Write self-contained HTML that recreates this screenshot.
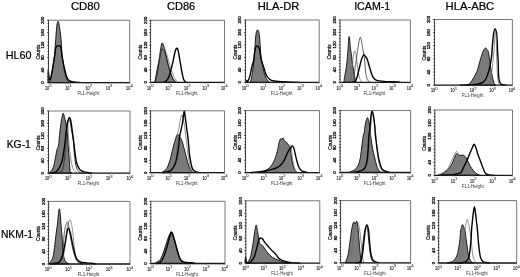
<!DOCTYPE html><html><head><meta charset="utf-8"><style>html,body{margin:0;padding:0;background:#fff;}svg{display:block;filter:blur(0.3px)}</style></head><body>
<svg width="520" height="277" viewBox="0 0 520 277" font-family='"Liberation Sans", sans-serif'>
<rect width="520" height="277" fill="#fff"/>
<text x="85.4" y="9.9" font-size="10.2" text-anchor="middle" textLength="29.0" lengthAdjust="spacingAndGlyphs" fill="#000" stroke="#000" stroke-width="0.22">CD80</text>
<text x="181.1" y="9.9" font-size="10.2" text-anchor="middle" textLength="28.2" lengthAdjust="spacingAndGlyphs" fill="#000" stroke="#000" stroke-width="0.22">CD86</text>
<text x="278.5" y="9.9" font-size="10.2" text-anchor="middle" textLength="41.5" lengthAdjust="spacingAndGlyphs" fill="#000" stroke="#000" stroke-width="0.22">HLA-DR</text>
<text x="372.2" y="9.9" font-size="10.2" text-anchor="middle" textLength="36.1" lengthAdjust="spacingAndGlyphs" fill="#000" stroke="#000" stroke-width="0.22">ICAM-1</text>
<text x="469.9" y="9.9" font-size="10.2" text-anchor="middle" textLength="48.7" lengthAdjust="spacingAndGlyphs" fill="#000" stroke="#000" stroke-width="0.22">HLA-ABC</text>
<text x="5.8" y="58.8" font-size="10.4" textLength="25.7" lengthAdjust="spacingAndGlyphs" fill="#000" stroke="#000" stroke-width="0.22">HL60</text>
<text x="6.7" y="148.4" font-size="10.4" textLength="24.2" lengthAdjust="spacingAndGlyphs" fill="#000" stroke="#000" stroke-width="0.22">KG-1</text>
<text x="0.9" y="237.8" font-size="10.4" textLength="32.2" lengthAdjust="spacingAndGlyphs" fill="#000" stroke="#000" stroke-width="0.22">NKM-1</text>
<g><path d="M49.3 82.6C49.52 81.93 50.22 80.03 50.6 78.6C50.98 77.17 51.23 75.85 51.6 74C51.97 72.15 52.43 69.67 52.8 67.5C53.17 65.33 53.47 63.17 53.8 61C54.13 58.83 54.57 57.05 54.8 54.5C55.03 51.95 55.03 48.32 55.2 45.7C55.37 43.08 55.62 41.12 55.8 38.8C55.98 36.48 56.12 34.12 56.3 31.8C56.48 29.48 56.6 26.65 56.9 24.9C57.2 23.15 57.72 21.3 58.1 21.3C58.48 21.3 58.85 23.15 59.2 24.9C59.55 26.65 59.9 29.48 60.2 31.8C60.5 34.12 60.78 36.48 61 38.8C61.22 41.12 61.35 43.08 61.5 45.7C61.65 48.32 61.67 51.95 61.9 54.5C62.13 57.05 62.55 58.83 62.9 61C63.25 63.17 63.6 65.33 64 67.5C64.4 69.67 64.88 72.15 65.3 74C65.72 75.85 65.97 77.35 66.5 78.6C67.03 79.85 67.92 80.83 68.5 81.5C69.08 82.17 69.75 82.42 70 82.6Z" fill="#7b7b7b" stroke="#111" stroke-width="0.95"/><path d="M48.2 82.4C48.22 80.57 48.12 71.93 48.3 71.4C48.48 70.87 48.92 78 49.3 79.2C49.68 80.4 50.22 79.47 50.6 78.6C50.98 77.73 51.23 75.85 51.6 74C51.97 72.15 52.43 69.67 52.8 67.5C53.17 65.33 53.47 63.17 53.8 61C54.13 58.83 54.5 56.58 54.8 54.5C55.1 52.42 55.23 49.92 55.6 48.5C55.97 47.08 56.52 46.48 57 46C57.48 45.52 58 45.6 58.5 45.6C59 45.6 59.58 45.6 60 46C60.42 46.4 60.68 46.58 61 48C61.32 49.42 61.58 52.33 61.9 54.5C62.22 56.67 62.52 58.83 62.9 61C63.28 63.17 63.72 65.33 64.2 67.5C64.68 69.67 65.25 72.15 65.8 74C66.35 75.85 66.78 77.4 67.5 78.6C68.22 79.8 69.02 80.63 70.1 81.2C71.18 81.77 72.35 81.8 74 82C75.65 82.2 79 82.33 80 82.4" fill="none" stroke="#000" stroke-width="1.4"/><path d="M48.5 20.2H129.7V82.6" fill="none" stroke="#666" stroke-width="0.9"/><path d="M48.5 20.2V82.6" fill="none" stroke="#333" stroke-width="0.9"/><path d="M48.5 82.6H129.7" fill="none" stroke="#111" stroke-width="1.3"/><path d="M47.1 82.6h1.8M47.6 79.48h1.3M47.6 76.36h1.3M47.6 73.24h1.3M47.1 70.12h1.8M47.6 67h1.3M47.6 63.88h1.3M47.6 60.76h1.3M47.1 57.64h1.8M47.6 54.52h1.3M47.6 51.4h1.3M47.6 48.28h1.3M47.1 45.16h1.8M47.6 42.04h1.3M47.6 38.92h1.3M47.6 35.8h1.3M47.1 32.68h1.8M47.6 29.56h1.3M47.6 26.44h1.3M47.6 23.32h1.3M47.1 20.2h1.8" stroke="#111" stroke-width="0.8"/><path d="M48.5 82.6v1.6M54.61 82.6v0.9M58.19 82.6v0.9M60.72 82.6v0.9M62.69 82.6v0.9M64.3 82.6v0.9M65.66 82.6v0.9M66.83 82.6v0.9M67.87 82.6v0.9M68.8 82.6v1.6M74.91 82.6v0.9M78.49 82.6v0.9M81.02 82.6v0.9M82.99 82.6v0.9M84.6 82.6v0.9M85.96 82.6v0.9M87.13 82.6v0.9M88.17 82.6v0.9M89.1 82.6v1.6M95.21 82.6v0.9M98.79 82.6v0.9M101.32 82.6v0.9M103.29 82.6v0.9M104.9 82.6v0.9M106.26 82.6v0.9M107.43 82.6v0.9M108.47 82.6v0.9M109.4 82.6v1.6M115.51 82.6v0.9M119.09 82.6v0.9M121.62 82.6v0.9M123.59 82.6v0.9M125.2 82.6v0.9M126.56 82.6v0.9M127.73 82.6v0.9M128.77 82.6v0.9M129.7 82.6v1.6" stroke="#555" stroke-width="0.5"/><text transform="translate(44.4 82.6) rotate(-90)" font-size="4.3" text-anchor="middle" fill="#111" stroke="#111" stroke-width="0.3">0</text><text transform="translate(44.4 70.12) rotate(-90)" font-size="4.3" text-anchor="middle" fill="#111" stroke="#111" stroke-width="0.3">40</text><text transform="translate(44.4 57.64) rotate(-90)" font-size="4.3" text-anchor="middle" fill="#111" stroke="#111" stroke-width="0.3">80</text><text transform="translate(44.4 45.16) rotate(-90)" font-size="4.3" text-anchor="middle" fill="#111" stroke="#111" stroke-width="0.3">120</text><text transform="translate(44.4 32.68) rotate(-90)" font-size="4.3" text-anchor="middle" fill="#111" stroke="#111" stroke-width="0.3">160</text><text transform="translate(44.4 20.2) rotate(-90)" font-size="4.3" text-anchor="middle" fill="#111" stroke="#111" stroke-width="0.3">200</text><text transform="translate(39.9 52.2) rotate(-90)" font-size="4.7" text-anchor="middle" fill="#111" stroke="#111" stroke-width="0.25">Counts</text><text x="47" y="89.8" font-size="5.2" text-anchor="middle" textLength="4.2" lengthAdjust="spacingAndGlyphs" fill="#333" stroke="#333" stroke-width="0.2">10</text><text x="49.2" y="87.2" font-size="4.2" fill="#444" stroke="#444" stroke-width="0.1">0</text><text x="67.3" y="89.8" font-size="5.2" text-anchor="middle" textLength="4.2" lengthAdjust="spacingAndGlyphs" fill="#333" stroke="#333" stroke-width="0.2">10</text><text x="69.5" y="87.2" font-size="4.2" fill="#444" stroke="#444" stroke-width="0.1">1</text><text x="87.6" y="89.8" font-size="5.2" text-anchor="middle" textLength="4.2" lengthAdjust="spacingAndGlyphs" fill="#333" stroke="#333" stroke-width="0.2">10</text><text x="89.8" y="87.2" font-size="4.2" fill="#444" stroke="#444" stroke-width="0.1">2</text><text x="107.9" y="89.8" font-size="5.2" text-anchor="middle" textLength="4.2" lengthAdjust="spacingAndGlyphs" fill="#333" stroke="#333" stroke-width="0.2">10</text><text x="110.1" y="87.2" font-size="4.2" fill="#444" stroke="#444" stroke-width="0.1">3</text><text x="128.2" y="89.8" font-size="5.2" text-anchor="middle" textLength="4.2" lengthAdjust="spacingAndGlyphs" fill="#333" stroke="#333" stroke-width="0.2">10</text><text x="130.4" y="87.2" font-size="4.2" fill="#444" stroke="#444" stroke-width="0.1">4</text><text x="88.3" y="94.8" font-size="4.8" text-anchor="middle" textLength="21.6" lengthAdjust="spacingAndGlyphs" fill="#333">FL1-Height</text></g>
<g><path d="M154.5 82.4C154.63 82 154.88 82.07 155.3 80C155.72 77.93 156.42 73.08 157 70C157.58 66.92 158.22 64.83 158.8 61.5C159.38 58.17 159.97 53.08 160.5 50C161.03 46.92 161.42 43.5 162 43C162.58 42.5 163.35 45.08 164 47C164.65 48.92 165.28 51.78 165.9 54.5C166.52 57.22 166.95 60.35 167.7 63.3C168.45 66.25 169.52 69.55 170.4 72.2C171.28 74.85 172.07 77.5 173 79.2C173.93 80.9 175.5 81.87 176 82.4Z" fill="#7b7b7b" stroke="#111" stroke-width="0.95"/><path d="M156 82.4C156.42 79.5 157.67 70.4 158.5 65C159.33 59.6 160.25 53.17 161 50C161.75 46.83 162.17 45.67 163 46C163.83 46.33 165 49.33 166 52C167 54.67 168 58.67 169 62C170 65.33 171 69.17 172 72C173 74.83 174 77.27 175 79C176 80.73 177.5 81.83 178 82.4" fill="none" stroke="#6a6a6a" stroke-width="0.75"/><path d="M155 82.4C155.33 81.17 156.25 78.73 157 75C157.75 71.27 158.75 64.17 159.5 60C160.25 55.83 160.92 51.75 161.5 50C162.08 48.25 162.42 49.05 163 49.5C163.58 49.95 164.25 50.62 165 52.7C165.75 54.78 166.67 58.87 167.5 62C168.33 65.13 169.08 68.67 170 71.5C170.92 74.33 172 77.18 173 79C174 80.82 175.5 81.83 176 82.4" fill="none" stroke="#222" stroke-width="0.9"/><path d="M164 82.4C164.62 81.87 166.63 80.9 167.7 79.2C168.77 77.5 169.52 75.15 170.4 72.2C171.28 69.25 172.23 64.87 173 61.5C173.77 58.13 174.42 54.2 175 52C175.58 49.8 176 48.63 176.5 48.3C177 47.97 177.4 47.8 178 50C178.6 52.2 179.45 57.8 180.1 61.5C180.75 65.2 181.32 69.25 181.9 72.2C182.48 75.15 182.92 77.5 183.6 79.2C184.28 80.9 185.6 81.87 186 82.4" fill="none" stroke="#000" stroke-width="1.4"/><path d="M150.6 20.3H224.5V82.4" fill="none" stroke="#666" stroke-width="0.9"/><path d="M150.6 20.3V82.4" fill="none" stroke="#333" stroke-width="0.9"/><path d="M150.6 82.4H224.5" fill="none" stroke="#111" stroke-width="1.3"/><path d="M149.2 82.4h1.8M149.7 79.3h1.3M149.7 76.19h1.3M149.7 73.09h1.3M149.2 69.98h1.8M149.7 66.88h1.3M149.7 63.77h1.3M149.7 60.67h1.3M149.2 57.56h1.8M149.7 54.45h1.3M149.7 51.35h1.3M149.7 48.24h1.3M149.2 45.14h1.8M149.7 42.04h1.3M149.7 38.93h1.3M149.7 35.83h1.3M149.2 32.72h1.8M149.7 29.62h1.3M149.7 26.51h1.3M149.7 23.41h1.3M149.2 20.3h1.8" stroke="#111" stroke-width="0.8"/><path d="M150.6 82.4v1.6M156.16 82.4v0.9M159.41 82.4v0.9M161.72 82.4v0.9M163.51 82.4v0.9M164.98 82.4v0.9M166.21 82.4v0.9M167.28 82.4v0.9M168.23 82.4v0.9M169.07 82.4v1.6M174.64 82.4v0.9M177.89 82.4v0.9M180.2 82.4v0.9M181.99 82.4v0.9M183.45 82.4v0.9M184.69 82.4v0.9M185.76 82.4v0.9M186.7 82.4v0.9M187.55 82.4v1.6M193.11 82.4v0.9M196.36 82.4v0.9M198.67 82.4v0.9M200.46 82.4v0.9M201.93 82.4v0.9M203.16 82.4v0.9M204.23 82.4v0.9M205.18 82.4v0.9M206.03 82.4v1.6M211.59 82.4v0.9M214.84 82.4v0.9M217.15 82.4v0.9M218.94 82.4v0.9M220.4 82.4v0.9M221.64 82.4v0.9M222.71 82.4v0.9M223.65 82.4v0.9M224.5 82.4v1.6" stroke="#555" stroke-width="0.5"/><text transform="translate(146.5 82.4) rotate(-90)" font-size="4.3" text-anchor="middle" fill="#111" stroke="#111" stroke-width="0.3">0</text><text transform="translate(146.5 69.98) rotate(-90)" font-size="4.3" text-anchor="middle" fill="#111" stroke="#111" stroke-width="0.3">40</text><text transform="translate(146.5 57.56) rotate(-90)" font-size="4.3" text-anchor="middle" fill="#111" stroke="#111" stroke-width="0.3">80</text><text transform="translate(146.5 45.14) rotate(-90)" font-size="4.3" text-anchor="middle" fill="#111" stroke="#111" stroke-width="0.3">120</text><text transform="translate(146.5 32.72) rotate(-90)" font-size="4.3" text-anchor="middle" fill="#111" stroke="#111" stroke-width="0.3">160</text><text transform="translate(146.5 20.3) rotate(-90)" font-size="4.3" text-anchor="middle" fill="#111" stroke="#111" stroke-width="0.3">200</text><text transform="translate(142 52.15) rotate(-90)" font-size="4.7" text-anchor="middle" fill="#111" stroke="#111" stroke-width="0.25">Counts</text><text x="149.1" y="89.6" font-size="5.2" text-anchor="middle" textLength="4.2" lengthAdjust="spacingAndGlyphs" fill="#333" stroke="#333" stroke-width="0.2">10</text><text x="151.3" y="87" font-size="4.2" fill="#444" stroke="#444" stroke-width="0.1">0</text><text x="167.57" y="89.6" font-size="5.2" text-anchor="middle" textLength="4.2" lengthAdjust="spacingAndGlyphs" fill="#333" stroke="#333" stroke-width="0.2">10</text><text x="169.77" y="87" font-size="4.2" fill="#444" stroke="#444" stroke-width="0.1">1</text><text x="186.05" y="89.6" font-size="5.2" text-anchor="middle" textLength="4.2" lengthAdjust="spacingAndGlyphs" fill="#333" stroke="#333" stroke-width="0.2">10</text><text x="188.25" y="87" font-size="4.2" fill="#444" stroke="#444" stroke-width="0.1">2</text><text x="204.53" y="89.6" font-size="5.2" text-anchor="middle" textLength="4.2" lengthAdjust="spacingAndGlyphs" fill="#333" stroke="#333" stroke-width="0.2">10</text><text x="206.72" y="87" font-size="4.2" fill="#444" stroke="#444" stroke-width="0.1">3</text><text x="223" y="89.6" font-size="5.2" text-anchor="middle" textLength="4.2" lengthAdjust="spacingAndGlyphs" fill="#333" stroke="#333" stroke-width="0.2">10</text><text x="225.2" y="87" font-size="4.2" fill="#444" stroke="#444" stroke-width="0.1">4</text><text x="186.75" y="94.6" font-size="4.8" text-anchor="middle" textLength="21.6" lengthAdjust="spacingAndGlyphs" fill="#333">FL1-Height</text></g>
<g><path d="M250.3 82.4C250.47 81.73 250.88 80.47 251.3 78.4C251.72 76.33 252.32 73.5 252.8 70C253.28 66.5 253.83 61.25 254.2 57.4C254.57 53.55 254.77 50.13 255 46.9C255.23 43.67 255.35 40.57 255.6 38C255.85 35.43 256.17 32.83 256.5 31.5C256.83 30.17 257.23 30 257.6 30C257.97 30 258.37 30.17 258.7 31.5C259.03 32.83 259.33 35.43 259.6 38C259.87 40.57 260.07 43.67 260.3 46.9C260.53 50.13 260.57 53.9 261 57.4C261.43 60.9 262.28 65.05 262.9 67.9C263.52 70.75 264.02 72.52 264.7 74.5C265.38 76.48 266.12 78.48 267 79.8C267.88 81.12 269.5 81.97 270 82.4Z" fill="#7b7b7b" stroke="#111" stroke-width="0.95"/><path d="M245.5 81C245.67 80.92 246.12 80.47 246.5 80.5C246.88 80.53 247.25 81.88 247.8 81.2C248.35 80.52 249.12 78.8 249.8 76.4C250.48 74 251.23 69.62 251.9 66.8C252.57 63.98 253.27 62.47 253.8 59.5C254.33 56.53 254.57 51.27 255.1 49C255.63 46.73 256.28 45.9 257 45.9C257.72 45.9 258.68 46.73 259.4 49C260.12 51.27 260.6 56.53 261.3 59.5C262 62.47 262.82 64.3 263.6 66.8C264.38 69.3 265.02 72.42 266 74.5C266.98 76.58 268.37 78.26 269.5 79.3C270.63 80.34 270.63 80.35 272.8 80.75C274.97 81.15 279.3 81.46 282.5 81.7C285.7 81.94 289.08 82.08 292 82.2C294.92 82.32 298.67 82.37 300 82.4" fill="none" stroke="#000" stroke-width="1.4"/><path d="M245.5 20H319.2V82.4" fill="none" stroke="#666" stroke-width="0.9"/><path d="M245.5 20V82.4" fill="none" stroke="#333" stroke-width="0.9"/><path d="M245.5 82.4H319.2" fill="none" stroke="#111" stroke-width="1.3"/><path d="M244.1 82.4h1.8M244.6 79.28h1.3M244.6 76.16h1.3M244.6 73.04h1.3M244.1 69.92h1.8M244.6 66.8h1.3M244.6 63.68h1.3M244.6 60.56h1.3M244.1 57.44h1.8M244.6 54.32h1.3M244.6 51.2h1.3M244.6 48.08h1.3M244.1 44.96h1.8M244.6 41.84h1.3M244.6 38.72h1.3M244.6 35.6h1.3M244.1 32.48h1.8M244.6 29.36h1.3M244.6 26.24h1.3M244.6 23.12h1.3M244.1 20h1.8" stroke="#111" stroke-width="0.8"/><path d="M245.5 82.4v1.6M251.05 82.4v0.9M254.29 82.4v0.9M256.59 82.4v0.9M258.38 82.4v0.9M259.84 82.4v0.9M261.07 82.4v0.9M262.14 82.4v0.9M263.08 82.4v0.9M263.93 82.4v1.6M269.47 82.4v0.9M272.72 82.4v0.9M275.02 82.4v0.9M276.8 82.4v0.9M278.26 82.4v0.9M279.5 82.4v0.9M280.56 82.4v0.9M281.51 82.4v0.9M282.35 82.4v1.6M287.9 82.4v0.9M291.14 82.4v0.9M293.44 82.4v0.9M295.23 82.4v0.9M296.69 82.4v0.9M297.92 82.4v0.9M298.99 82.4v0.9M299.93 82.4v0.9M300.77 82.4v1.6M306.32 82.4v0.9M309.57 82.4v0.9M311.87 82.4v0.9M313.65 82.4v0.9M315.11 82.4v0.9M316.35 82.4v0.9M317.41 82.4v0.9M318.36 82.4v0.9M319.2 82.4v1.6" stroke="#555" stroke-width="0.5"/><text transform="translate(241.4 82.4) rotate(-90)" font-size="4.3" text-anchor="middle" fill="#111" stroke="#111" stroke-width="0.3">0</text><text transform="translate(241.4 69.92) rotate(-90)" font-size="4.3" text-anchor="middle" fill="#111" stroke="#111" stroke-width="0.3">40</text><text transform="translate(241.4 57.44) rotate(-90)" font-size="4.3" text-anchor="middle" fill="#111" stroke="#111" stroke-width="0.3">80</text><text transform="translate(241.4 44.96) rotate(-90)" font-size="4.3" text-anchor="middle" fill="#111" stroke="#111" stroke-width="0.3">120</text><text transform="translate(241.4 32.48) rotate(-90)" font-size="4.3" text-anchor="middle" fill="#111" stroke="#111" stroke-width="0.3">160</text><text transform="translate(241.4 20) rotate(-90)" font-size="4.3" text-anchor="middle" fill="#111" stroke="#111" stroke-width="0.3">200</text><text transform="translate(236.9 52) rotate(-90)" font-size="4.7" text-anchor="middle" fill="#111" stroke="#111" stroke-width="0.25">Counts</text><text x="244" y="89.6" font-size="5.2" text-anchor="middle" textLength="4.2" lengthAdjust="spacingAndGlyphs" fill="#333" stroke="#333" stroke-width="0.2">10</text><text x="246.2" y="87" font-size="4.2" fill="#444" stroke="#444" stroke-width="0.1">0</text><text x="262.43" y="89.6" font-size="5.2" text-anchor="middle" textLength="4.2" lengthAdjust="spacingAndGlyphs" fill="#333" stroke="#333" stroke-width="0.2">10</text><text x="264.62" y="87" font-size="4.2" fill="#444" stroke="#444" stroke-width="0.1">1</text><text x="280.85" y="89.6" font-size="5.2" text-anchor="middle" textLength="4.2" lengthAdjust="spacingAndGlyphs" fill="#333" stroke="#333" stroke-width="0.2">10</text><text x="283.05" y="87" font-size="4.2" fill="#444" stroke="#444" stroke-width="0.1">2</text><text x="299.27" y="89.6" font-size="5.2" text-anchor="middle" textLength="4.2" lengthAdjust="spacingAndGlyphs" fill="#333" stroke="#333" stroke-width="0.2">10</text><text x="301.47" y="87" font-size="4.2" fill="#444" stroke="#444" stroke-width="0.1">3</text><text x="317.7" y="89.6" font-size="5.2" text-anchor="middle" textLength="4.2" lengthAdjust="spacingAndGlyphs" fill="#333" stroke="#333" stroke-width="0.2">10</text><text x="319.9" y="87" font-size="4.2" fill="#444" stroke="#444" stroke-width="0.1">4</text><text x="281.55" y="94.6" font-size="4.8" text-anchor="middle" textLength="21.6" lengthAdjust="spacingAndGlyphs" fill="#333">FL1-Height</text></g>
<g><path d="M343.5 82.3C343.6 82.1 343.93 81.87 344.1 81.1C344.27 80.33 344.07 80.47 344.5 77.7C344.93 74.93 346.1 69.4 346.7 64.5C347.3 59.6 347.7 52.97 348.1 48.3C348.5 43.63 348.7 36.5 349.1 36.5C349.5 36.5 349.92 43.63 350.5 48.3C351.08 52.97 351.92 59.77 352.6 64.5C353.28 69.23 354.07 74 354.6 76.7C355.13 79.4 355.48 79.77 355.8 80.7C356.12 81.63 356.38 82.03 356.5 82.3Z" fill="#7b7b7b" stroke="#111" stroke-width="0.95"/><path d="M350 82.3C350.25 81.08 351 78.9 351.5 75C352 71.1 352.5 62.9 353 58.9C353.5 54.9 354 51.72 354.5 51C355 50.28 355.58 52.77 356 54.6C356.42 56.43 356.67 59.43 357 62C357.33 64.57 357.58 67.33 358 70C358.42 72.67 358.83 75.95 359.5 78C360.17 80.05 361.58 81.58 362 82.3" fill="none" stroke="#6a6a6a" stroke-width="0.75"/><path d="M353.5 82.3C353.67 80.92 354.2 76.72 354.5 74C354.8 71.28 355.07 67.8 355.3 66C355.53 64.2 355.67 64.87 355.9 63.2C356.13 61.53 356.33 58.65 356.7 56C357.07 53.35 357.67 49.97 358.1 47.3C358.53 44.63 358.93 41.72 359.3 40C359.67 38.28 359.97 37 360.3 37C360.63 37 360.93 38.28 361.3 40C361.67 41.72 362.07 44.87 362.5 47.3C362.93 49.73 363.52 52.15 363.9 54.6C364.28 57.05 364.52 59.1 364.8 62C365.08 64.9 365.17 69.05 365.6 72C366.03 74.95 366.67 77.98 367.4 79.7C368.13 81.42 369.57 81.87 370 82.3" fill="none" stroke="#444" stroke-width="0.85"/><path d="M352 82.3C352.37 82.22 353.58 82.12 354.2 81.8C354.82 81.48 355.2 81.23 355.7 80.4C356.2 79.57 356.6 78.85 357.2 76.8C357.8 74.75 358.58 71 359.3 68.1C360.02 65.2 360.77 61.62 361.5 59.4C362.23 57.18 363.03 55.28 363.7 54.8C364.37 54.32 364.9 55.73 365.5 56.5C366.1 57.27 366.65 57.7 367.3 59.4C367.95 61.1 368.68 64.28 369.4 66.7C370.12 69.12 370.87 71.98 371.6 73.9C372.33 75.82 372.95 77.12 373.8 78.2C374.65 79.28 375.02 79.87 376.7 80.4C378.38 80.93 381.02 81.17 383.9 81.4C386.78 81.63 391.32 81.65 394 81.8C396.68 81.95 399 82.22 400 82.3" fill="none" stroke="#000" stroke-width="1.4"/><path d="M340 20H410.4V82.3" fill="none" stroke="#666" stroke-width="0.9"/><path d="M340 20V82.3" fill="none" stroke="#333" stroke-width="0.9"/><path d="M340 82.3H410.4" fill="none" stroke="#111" stroke-width="1.3"/><path d="M338.6 82.3h1.8M339.1 79.19h1.3M339.1 76.07h1.3M339.1 72.95h1.3M338.6 69.84h1.8M339.1 66.72h1.3M339.1 63.61h1.3M339.1 60.49h1.3M338.6 57.38h1.8M339.1 54.27h1.3M339.1 51.15h1.3M339.1 48.03h1.3M338.6 44.92h1.8M339.1 41.8h1.3M339.1 38.69h1.3M339.1 35.57h1.3M338.6 32.46h1.8M339.1 29.34h1.3M339.1 26.23h1.3M339.1 23.11h1.3M338.6 20h1.8" stroke="#111" stroke-width="0.8"/><path d="M340 82.3v1.6M345.3 82.3v0.9M348.4 82.3v0.9M350.6 82.3v0.9M352.3 82.3v0.9M353.7 82.3v0.9M354.87 82.3v0.9M355.89 82.3v0.9M356.79 82.3v0.9M357.6 82.3v1.6M362.9 82.3v0.9M366 82.3v0.9M368.2 82.3v0.9M369.9 82.3v0.9M371.3 82.3v0.9M372.47 82.3v0.9M373.49 82.3v0.9M374.39 82.3v0.9M375.2 82.3v1.6M380.5 82.3v0.9M383.6 82.3v0.9M385.8 82.3v0.9M387.5 82.3v0.9M388.9 82.3v0.9M390.07 82.3v0.9M391.09 82.3v0.9M391.99 82.3v0.9M392.8 82.3v1.6M398.1 82.3v0.9M401.2 82.3v0.9M403.4 82.3v0.9M405.1 82.3v0.9M406.5 82.3v0.9M407.67 82.3v0.9M408.69 82.3v0.9M409.59 82.3v0.9M410.4 82.3v1.6" stroke="#555" stroke-width="0.5"/><text transform="translate(335.9 82.3) rotate(-90)" font-size="4.3" text-anchor="middle" fill="#111" stroke="#111" stroke-width="0.3">0</text><text transform="translate(335.9 69.84) rotate(-90)" font-size="4.3" text-anchor="middle" fill="#111" stroke="#111" stroke-width="0.3">40</text><text transform="translate(335.9 57.38) rotate(-90)" font-size="4.3" text-anchor="middle" fill="#111" stroke="#111" stroke-width="0.3">80</text><text transform="translate(335.9 44.92) rotate(-90)" font-size="4.3" text-anchor="middle" fill="#111" stroke="#111" stroke-width="0.3">120</text><text transform="translate(335.9 32.46) rotate(-90)" font-size="4.3" text-anchor="middle" fill="#111" stroke="#111" stroke-width="0.3">160</text><text transform="translate(335.9 20) rotate(-90)" font-size="4.3" text-anchor="middle" fill="#111" stroke="#111" stroke-width="0.3">200</text><text transform="translate(331.4 51.95) rotate(-90)" font-size="4.7" text-anchor="middle" fill="#111" stroke="#111" stroke-width="0.25">Counts</text><text x="338.5" y="89.5" font-size="5.2" text-anchor="middle" textLength="4.2" lengthAdjust="spacingAndGlyphs" fill="#333" stroke="#333" stroke-width="0.2">10</text><text x="340.7" y="86.9" font-size="4.2" fill="#444" stroke="#444" stroke-width="0.1">0</text><text x="356.1" y="89.5" font-size="5.2" text-anchor="middle" textLength="4.2" lengthAdjust="spacingAndGlyphs" fill="#333" stroke="#333" stroke-width="0.2">10</text><text x="358.3" y="86.9" font-size="4.2" fill="#444" stroke="#444" stroke-width="0.1">1</text><text x="373.7" y="89.5" font-size="5.2" text-anchor="middle" textLength="4.2" lengthAdjust="spacingAndGlyphs" fill="#333" stroke="#333" stroke-width="0.2">10</text><text x="375.9" y="86.9" font-size="4.2" fill="#444" stroke="#444" stroke-width="0.1">2</text><text x="391.3" y="89.5" font-size="5.2" text-anchor="middle" textLength="4.2" lengthAdjust="spacingAndGlyphs" fill="#333" stroke="#333" stroke-width="0.2">10</text><text x="393.5" y="86.9" font-size="4.2" fill="#444" stroke="#444" stroke-width="0.1">3</text><text x="408.9" y="89.5" font-size="5.2" text-anchor="middle" textLength="4.2" lengthAdjust="spacingAndGlyphs" fill="#333" stroke="#333" stroke-width="0.2">10</text><text x="411.1" y="86.9" font-size="4.2" fill="#444" stroke="#444" stroke-width="0.1">4</text><text x="374.4" y="94.5" font-size="4.8" text-anchor="middle" textLength="21.6" lengthAdjust="spacingAndGlyphs" fill="#333">FL1-Height</text></g>
<g><path d="M466 85.2C466.35 85.12 467.38 85.08 468.1 84.7C468.82 84.32 469.42 83.97 470.3 82.9C471.18 81.83 472.25 80.32 473.4 78.3C474.55 76.28 476.07 73.82 477.2 70.8C478.33 67.78 479.2 63.48 480.2 60.2C481.2 56.92 482.32 53.13 483.2 51.1C484.08 49.07 484.87 48.27 485.5 48C486.13 47.73 486.5 48.73 487 49.5C487.5 50.27 488 50.32 488.5 52.6C489 54.88 489.5 59.92 490 63.2C490.5 66.48 490.98 69.53 491.5 72.3C492.02 75.07 492.58 77.78 493.1 79.8C493.62 81.82 494.12 83.5 494.6 84.4C495.08 85.3 495.77 85.07 496 85.2Z" fill="#7b7b7b" stroke="#111" stroke-width="0.95"/><path d="M460 85.2C461.6 85.12 466.73 84.88 469.6 84.7C472.47 84.52 474.93 84.53 477.2 84.1C479.47 83.67 481.7 83.07 483.2 82.1C484.7 81.13 485.18 80.45 486.2 78.3C487.22 76.15 488.42 72.73 489.3 69.2C490.18 65.67 490.98 61.05 491.5 57.1C492.02 53.15 492.03 49.48 492.4 45.5C492.77 41.52 493.25 35.97 493.7 33.2C494.15 30.43 494.62 28.9 495.1 28.9C495.58 28.9 496.25 31.13 496.6 33.2C496.95 35.27 497.03 38.17 497.2 41.3C497.37 44.43 497.43 48.55 497.6 52C497.77 55.45 498.07 58.62 498.2 62C498.33 65.38 498.25 69.33 498.4 72.3C498.55 75.27 498.73 77.92 499.1 79.8C499.47 81.68 499.97 82.78 500.6 83.6C501.23 84.42 502 84.43 502.9 84.7C503.8 84.97 505.48 85.12 506 85.2" fill="none" stroke="#000" stroke-width="1.4"/><path d="M488 85C488.33 84.17 489.33 82.5 490 80C490.67 77.5 491.4 74.17 492 70C492.6 65.83 493.22 59.2 493.6 55C493.98 50.8 494.08 48.03 494.3 44.8C494.52 41.57 494.73 37.9 494.9 35.6C495.07 33.3 495.12 31.27 495.3 31C495.48 30.73 495.82 31.67 496 34C496.18 36.33 496.27 40.67 496.4 45C496.53 49.33 496.65 55.5 496.8 60C496.95 64.5 497.1 68.67 497.3 72C497.5 75.33 497.63 77.83 498 80C498.37 82.17 499.25 84.17 499.5 85" fill="none" stroke="#6a6a6a" stroke-width="0.75"/><path d="M434.5 19.5H512.4V85.2" fill="none" stroke="#666" stroke-width="0.9"/><path d="M434.5 19.5V85.2" fill="none" stroke="#333" stroke-width="0.9"/><path d="M434.5 85.2H512.4" fill="none" stroke="#111" stroke-width="1.3"/><path d="M433.1 85.2h1.8M433.6 81.92h1.3M433.6 78.63h1.3M433.6 75.34h1.3M433.1 72.06h1.8M433.6 68.78h1.3M433.6 65.49h1.3M433.6 62.2h1.3M433.1 58.92h1.8M433.6 55.63h1.3M433.6 52.35h1.3M433.6 49.06h1.3M433.1 45.78h1.8M433.6 42.5h1.3M433.6 39.21h1.3M433.6 35.93h1.3M433.1 32.64h1.8M433.6 29.35h1.3M433.6 26.07h1.3M433.6 22.79h1.3M433.1 19.5h1.8" stroke="#111" stroke-width="0.8"/><path d="M434.5 85.2v1.6M440.36 85.2v0.9M443.79 85.2v0.9M446.23 85.2v0.9M448.11 85.2v0.9M449.65 85.2v0.9M450.96 85.2v0.9M452.09 85.2v0.9M453.08 85.2v0.9M453.98 85.2v1.6M459.84 85.2v0.9M463.27 85.2v0.9M465.7 85.2v0.9M467.59 85.2v0.9M469.13 85.2v0.9M470.43 85.2v0.9M471.56 85.2v0.9M472.56 85.2v0.9M473.45 85.2v1.6M479.31 85.2v0.9M482.74 85.2v0.9M485.18 85.2v0.9M487.06 85.2v0.9M488.6 85.2v0.9M489.91 85.2v0.9M491.04 85.2v0.9M492.03 85.2v0.9M492.92 85.2v1.6M498.79 85.2v0.9M502.22 85.2v0.9M504.65 85.2v0.9M506.54 85.2v0.9M508.08 85.2v0.9M509.38 85.2v0.9M510.51 85.2v0.9M511.51 85.2v0.9M512.4 85.2v1.6" stroke="#555" stroke-width="0.5"/><text transform="translate(430.4 85.2) rotate(-90)" font-size="4.3" text-anchor="middle" fill="#111" stroke="#111" stroke-width="0.3">0</text><text transform="translate(430.4 72.06) rotate(-90)" font-size="4.3" text-anchor="middle" fill="#111" stroke="#111" stroke-width="0.3">40</text><text transform="translate(430.4 58.92) rotate(-90)" font-size="4.3" text-anchor="middle" fill="#111" stroke="#111" stroke-width="0.3">80</text><text transform="translate(430.4 45.78) rotate(-90)" font-size="4.3" text-anchor="middle" fill="#111" stroke="#111" stroke-width="0.3">120</text><text transform="translate(430.4 32.64) rotate(-90)" font-size="4.3" text-anchor="middle" fill="#111" stroke="#111" stroke-width="0.3">160</text><text transform="translate(430.4 19.5) rotate(-90)" font-size="4.3" text-anchor="middle" fill="#111" stroke="#111" stroke-width="0.3">200</text><text transform="translate(425.9 53.15) rotate(-90)" font-size="4.7" text-anchor="middle" fill="#111" stroke="#111" stroke-width="0.25">Counts</text><text x="433" y="92.4" font-size="5.2" text-anchor="middle" textLength="4.2" lengthAdjust="spacingAndGlyphs" fill="#333" stroke="#333" stroke-width="0.2">10</text><text x="435.2" y="89.8" font-size="4.2" fill="#444" stroke="#444" stroke-width="0.1">0</text><text x="452.48" y="92.4" font-size="5.2" text-anchor="middle" textLength="4.2" lengthAdjust="spacingAndGlyphs" fill="#333" stroke="#333" stroke-width="0.2">10</text><text x="454.68" y="89.8" font-size="4.2" fill="#444" stroke="#444" stroke-width="0.1">1</text><text x="471.95" y="92.4" font-size="5.2" text-anchor="middle" textLength="4.2" lengthAdjust="spacingAndGlyphs" fill="#333" stroke="#333" stroke-width="0.2">10</text><text x="474.15" y="89.8" font-size="4.2" fill="#444" stroke="#444" stroke-width="0.1">2</text><text x="491.42" y="92.4" font-size="5.2" text-anchor="middle" textLength="4.2" lengthAdjust="spacingAndGlyphs" fill="#333" stroke="#333" stroke-width="0.2">10</text><text x="493.62" y="89.8" font-size="4.2" fill="#444" stroke="#444" stroke-width="0.1">3</text><text x="510.9" y="92.4" font-size="5.2" text-anchor="middle" textLength="4.2" lengthAdjust="spacingAndGlyphs" fill="#333" stroke="#333" stroke-width="0.2">10</text><text x="513.1" y="89.8" font-size="4.2" fill="#444" stroke="#444" stroke-width="0.1">4</text><text x="472.65" y="97.4" font-size="4.8" text-anchor="middle" textLength="21.6" lengthAdjust="spacingAndGlyphs" fill="#333">FL1-Height</text></g>
<g><path d="M48.8 173.2C48.88 173.12 49.02 172.97 49.3 172.7C49.58 172.43 49.87 172.42 50.5 171.6C51.13 170.78 52.35 169.68 53.1 167.8C53.85 165.92 54.37 163.25 55 160.3C55.63 157.35 56.3 152.65 56.9 150.1C57.5 147.55 58.17 147.47 58.6 145C59.03 142.53 59.15 138.6 59.5 135.3C59.85 132 60.28 128.15 60.7 125.2C61.12 122.25 61.57 119.6 62 117.6C62.43 115.6 62.88 113.2 63.3 113.2C63.72 113.2 64.05 115.8 64.5 117.6C64.95 119.4 65.5 121.1 66 124C66.5 126.9 67.08 130.67 67.5 135C67.92 139.33 68.17 145.33 68.5 150C68.83 154.67 69.22 159.4 69.5 163C69.78 166.6 69.78 169.9 70.2 171.6C70.62 173.3 71.7 172.93 72 173.2Z" fill="#7b7b7b" stroke="#111" stroke-width="0.95"/><path d="M60 173.2C60.5 172.33 62.17 171.03 63 168C63.83 164.97 64.42 159.67 65 155C65.58 150.33 66.08 145 66.5 140C66.92 135 67.17 128.33 67.5 125C67.83 121.67 68.08 120.67 68.5 120C68.92 119.33 69.5 119.33 70 121C70.5 122.67 70.95 126.83 71.5 130C72.05 133.17 72.78 135.58 73.3 140C73.82 144.42 74.07 151.87 74.6 156.5C75.13 161.13 75.6 165.13 76.5 167.8C77.4 170.47 78.75 171.6 80 172.5C81.25 173.4 83.33 173.08 84 173.2" fill="none" stroke="#222" stroke-width="0.9"/><path d="M62 173.2C62.42 171.83 63.83 168.87 64.5 165C65.17 161.13 65.58 155.83 66 150C66.42 144.17 66.7 134.5 67 130C67.3 125.5 67.53 121.33 67.8 123C68.07 124.67 68.1 134 68.6 140C69.1 146 70.02 154.15 70.8 159C71.58 163.85 72.27 166.73 73.3 169.1C74.33 171.47 76.38 172.52 77 173.2" fill="none" stroke="#6a6a6a" stroke-width="0.75"/><path d="M51 173.2C51.55 173.12 53.22 173.17 54.3 172.7C55.38 172.23 56.52 171.52 57.5 170.4C58.48 169.28 59.4 167.73 60.2 166C61 164.27 61.67 162.67 62.3 160C62.93 157.33 63.5 153.33 64 150C64.5 146.67 64.92 143.33 65.3 140C65.68 136.67 65.98 132.67 66.3 130C66.62 127.33 66.88 125.67 67.2 124C67.52 122.33 67.83 121.08 68.2 120C68.57 118.92 69 117.5 69.4 117.5C69.8 117.5 70.25 118.75 70.6 120C70.95 121.25 71.22 123.08 71.5 125C71.78 126.92 71.97 128.95 72.3 131.5C72.63 134.05 73.05 136.77 73.5 140.3C73.95 143.83 74.48 148.95 75 152.7C75.52 156.45 75.85 160.07 76.6 162.8C77.35 165.53 78.37 167.63 79.5 169.1C80.63 170.57 81.9 171 83.4 171.6C84.9 172.2 87.07 172.43 88.5 172.7C89.93 172.97 91.42 173.12 92 173.2" fill="none" stroke="#000" stroke-width="1.4"/><path d="M48.5 111H130V173.2" fill="none" stroke="#666" stroke-width="0.9"/><path d="M48.5 111V173.2" fill="none" stroke="#333" stroke-width="0.9"/><path d="M48.5 173.2H130" fill="none" stroke="#111" stroke-width="1.3"/><path d="M47.1 173.2h1.8M47.6 170.09h1.3M47.6 166.98h1.3M47.6 163.87h1.3M47.1 160.76h1.8M47.6 157.65h1.3M47.6 154.54h1.3M47.6 151.43h1.3M47.1 148.32h1.8M47.6 145.21h1.3M47.6 142.1h1.3M47.6 138.99h1.3M47.1 135.88h1.8M47.6 132.77h1.3M47.6 129.66h1.3M47.6 126.55h1.3M47.1 123.44h1.8M47.6 120.33h1.3M47.6 117.22h1.3M47.6 114.11h1.3M47.1 111h1.8" stroke="#111" stroke-width="0.8"/><path d="M48.5 173.2v1.6M54.63 173.2v0.9M58.22 173.2v0.9M60.77 173.2v0.9M62.74 173.2v0.9M64.35 173.2v0.9M65.72 173.2v0.9M66.9 173.2v0.9M67.94 173.2v0.9M68.88 173.2v1.6M75.01 173.2v0.9M78.6 173.2v0.9M81.14 173.2v0.9M83.12 173.2v0.9M84.73 173.2v0.9M86.09 173.2v0.9M87.28 173.2v0.9M88.32 173.2v0.9M89.25 173.2v1.6M95.38 173.2v0.9M98.97 173.2v0.9M101.52 173.2v0.9M103.49 173.2v0.9M105.1 173.2v0.9M106.47 173.2v0.9M107.65 173.2v0.9M108.69 173.2v0.9M109.62 173.2v1.6M115.76 173.2v0.9M119.35 173.2v0.9M121.89 173.2v0.9M123.87 173.2v0.9M125.48 173.2v0.9M126.84 173.2v0.9M128.03 173.2v0.9M129.07 173.2v0.9M130 173.2v1.6" stroke="#555" stroke-width="0.5"/><text transform="translate(44.4 173.2) rotate(-90)" font-size="4.3" text-anchor="middle" fill="#111" stroke="#111" stroke-width="0.3">0</text><text transform="translate(44.4 160.76) rotate(-90)" font-size="4.3" text-anchor="middle" fill="#111" stroke="#111" stroke-width="0.3">40</text><text transform="translate(44.4 148.32) rotate(-90)" font-size="4.3" text-anchor="middle" fill="#111" stroke="#111" stroke-width="0.3">80</text><text transform="translate(44.4 135.88) rotate(-90)" font-size="4.3" text-anchor="middle" fill="#111" stroke="#111" stroke-width="0.3">120</text><text transform="translate(44.4 123.44) rotate(-90)" font-size="4.3" text-anchor="middle" fill="#111" stroke="#111" stroke-width="0.3">160</text><text transform="translate(44.4 111) rotate(-90)" font-size="4.3" text-anchor="middle" fill="#111" stroke="#111" stroke-width="0.3">200</text><text transform="translate(39.9 142.9) rotate(-90)" font-size="4.7" text-anchor="middle" fill="#111" stroke="#111" stroke-width="0.25">Counts</text><text x="47" y="180.4" font-size="5.2" text-anchor="middle" textLength="4.2" lengthAdjust="spacingAndGlyphs" fill="#333" stroke="#333" stroke-width="0.2">10</text><text x="49.2" y="177.8" font-size="4.2" fill="#444" stroke="#444" stroke-width="0.1">0</text><text x="67.38" y="180.4" font-size="5.2" text-anchor="middle" textLength="4.2" lengthAdjust="spacingAndGlyphs" fill="#333" stroke="#333" stroke-width="0.2">10</text><text x="69.58" y="177.8" font-size="4.2" fill="#444" stroke="#444" stroke-width="0.1">1</text><text x="87.75" y="180.4" font-size="5.2" text-anchor="middle" textLength="4.2" lengthAdjust="spacingAndGlyphs" fill="#333" stroke="#333" stroke-width="0.2">10</text><text x="89.95" y="177.8" font-size="4.2" fill="#444" stroke="#444" stroke-width="0.1">2</text><text x="108.12" y="180.4" font-size="5.2" text-anchor="middle" textLength="4.2" lengthAdjust="spacingAndGlyphs" fill="#333" stroke="#333" stroke-width="0.2">10</text><text x="110.33" y="177.8" font-size="4.2" fill="#444" stroke="#444" stroke-width="0.1">3</text><text x="128.5" y="180.4" font-size="5.2" text-anchor="middle" textLength="4.2" lengthAdjust="spacingAndGlyphs" fill="#333" stroke="#333" stroke-width="0.2">10</text><text x="130.7" y="177.8" font-size="4.2" fill="#444" stroke="#444" stroke-width="0.1">4</text><text x="88.45" y="185.4" font-size="4.8" text-anchor="middle" textLength="21.6" lengthAdjust="spacingAndGlyphs" fill="#333">FL1-Height</text></g>
<g><path d="M161 172.7C161.33 172.53 162.03 172.42 163 171.7C163.97 170.98 165.67 170.22 166.8 168.4C167.93 166.58 168.92 163.58 169.8 160.8C170.68 158.02 171.33 154.73 172.1 151.7C172.87 148.67 173.63 145.3 174.4 142.6C175.17 139.9 176.1 136.83 176.7 135.5C177.3 134.17 177.45 134.35 178 134.6C178.55 134.85 179.33 135.93 180 137C180.67 138.07 181.25 138.83 182 141C182.75 143.17 183.75 147.17 184.5 150C185.25 152.83 185.83 155.5 186.5 158C187.17 160.5 187.83 163 188.5 165C189.17 167 189.75 168.72 190.5 170C191.25 171.28 192.58 172.25 193 172.7Z" fill="#7b7b7b" stroke="#111" stroke-width="0.95"/><path d="M170 172.7C170.67 171.92 173 170.12 174 168C175 165.88 175.43 165.28 176 160C176.57 154.72 176.87 141.9 177.4 136.3C177.93 130.7 178.6 129.68 179.2 126.4C179.8 123.12 180.53 118.5 181 116.6C181.47 114.7 181.58 114.43 182 115C182.42 115.57 183 117.5 183.5 120C184 122.5 184.5 126.33 185 130C185.5 133.67 186 137.83 186.5 142C187 146.17 187.42 151.17 188 155C188.58 158.83 189.33 162.33 190 165C190.67 167.67 191.17 169.72 192 171C192.83 172.28 194.5 172.42 195 172.7" fill="none" stroke="#6a6a6a" stroke-width="0.75"/><path d="M163 172.7C163.77 172.53 166.2 172.17 167.6 171.7C169 171.23 170.13 171.22 171.4 169.9C172.67 168.58 174.2 166.33 175.2 163.8C176.2 161.27 176.78 157.98 177.4 154.7C178.02 151.42 178.57 146.88 178.9 144.1C179.23 141.32 179.15 139.92 179.4 138C179.65 136.08 179.92 134.93 180.4 132.6C180.88 130.27 181.78 126.87 182.3 124C182.82 121.13 183.15 117.55 183.5 115.4C183.85 113.25 184.1 110.7 184.4 111.1C184.7 111.5 185 115.65 185.3 117.8C185.6 119.95 185.98 122.35 186.2 124C186.42 125.65 186.33 125.65 186.6 127.7C186.87 129.75 187.47 133.57 187.8 136.3C188.13 139.03 188.32 141.03 188.6 144.1C188.88 147.17 189.08 151.42 189.5 154.7C189.92 157.98 190.58 161.4 191.1 163.8C191.62 166.2 191.85 167.78 192.6 169.1C193.35 170.42 194.53 171.1 195.6 171.7C196.67 172.3 198.43 172.53 199 172.7" fill="none" stroke="#000" stroke-width="1.4"/><path d="M150.6 110.8H224.5V172.7" fill="none" stroke="#666" stroke-width="0.9"/><path d="M150.6 110.8V172.7" fill="none" stroke="#333" stroke-width="0.9"/><path d="M150.6 172.7H224.5" fill="none" stroke="#111" stroke-width="1.3"/><path d="M149.2 172.7h1.8M149.7 169.6h1.3M149.7 166.51h1.3M149.7 163.41h1.3M149.2 160.32h1.8M149.7 157.22h1.3M149.7 154.13h1.3M149.7 151.03h1.3M149.2 147.94h1.8M149.7 144.84h1.3M149.7 141.75h1.3M149.7 138.66h1.3M149.2 135.56h1.8M149.7 132.46h1.3M149.7 129.37h1.3M149.7 126.27h1.3M149.2 123.18h1.8M149.7 120.08h1.3M149.7 116.99h1.3M149.7 113.89h1.3M149.2 110.8h1.8" stroke="#111" stroke-width="0.8"/><path d="M150.6 172.7v1.6M156.16 172.7v0.9M159.41 172.7v0.9M161.72 172.7v0.9M163.51 172.7v0.9M164.98 172.7v0.9M166.21 172.7v0.9M167.28 172.7v0.9M168.23 172.7v0.9M169.07 172.7v1.6M174.64 172.7v0.9M177.89 172.7v0.9M180.2 172.7v0.9M181.99 172.7v0.9M183.45 172.7v0.9M184.69 172.7v0.9M185.76 172.7v0.9M186.7 172.7v0.9M187.55 172.7v1.6M193.11 172.7v0.9M196.36 172.7v0.9M198.67 172.7v0.9M200.46 172.7v0.9M201.93 172.7v0.9M203.16 172.7v0.9M204.23 172.7v0.9M205.18 172.7v0.9M206.03 172.7v1.6M211.59 172.7v0.9M214.84 172.7v0.9M217.15 172.7v0.9M218.94 172.7v0.9M220.4 172.7v0.9M221.64 172.7v0.9M222.71 172.7v0.9M223.65 172.7v0.9M224.5 172.7v1.6" stroke="#555" stroke-width="0.5"/><text transform="translate(146.5 172.7) rotate(-90)" font-size="4.3" text-anchor="middle" fill="#111" stroke="#111" stroke-width="0.3">0</text><text transform="translate(146.5 160.32) rotate(-90)" font-size="4.3" text-anchor="middle" fill="#111" stroke="#111" stroke-width="0.3">40</text><text transform="translate(146.5 147.94) rotate(-90)" font-size="4.3" text-anchor="middle" fill="#111" stroke="#111" stroke-width="0.3">80</text><text transform="translate(146.5 135.56) rotate(-90)" font-size="4.3" text-anchor="middle" fill="#111" stroke="#111" stroke-width="0.3">120</text><text transform="translate(146.5 123.18) rotate(-90)" font-size="4.3" text-anchor="middle" fill="#111" stroke="#111" stroke-width="0.3">160</text><text transform="translate(146.5 110.8) rotate(-90)" font-size="4.3" text-anchor="middle" fill="#111" stroke="#111" stroke-width="0.3">200</text><text transform="translate(142 142.55) rotate(-90)" font-size="4.7" text-anchor="middle" fill="#111" stroke="#111" stroke-width="0.25">Counts</text><text x="149.1" y="179.9" font-size="5.2" text-anchor="middle" textLength="4.2" lengthAdjust="spacingAndGlyphs" fill="#333" stroke="#333" stroke-width="0.2">10</text><text x="151.3" y="177.3" font-size="4.2" fill="#444" stroke="#444" stroke-width="0.1">0</text><text x="167.57" y="179.9" font-size="5.2" text-anchor="middle" textLength="4.2" lengthAdjust="spacingAndGlyphs" fill="#333" stroke="#333" stroke-width="0.2">10</text><text x="169.77" y="177.3" font-size="4.2" fill="#444" stroke="#444" stroke-width="0.1">1</text><text x="186.05" y="179.9" font-size="5.2" text-anchor="middle" textLength="4.2" lengthAdjust="spacingAndGlyphs" fill="#333" stroke="#333" stroke-width="0.2">10</text><text x="188.25" y="177.3" font-size="4.2" fill="#444" stroke="#444" stroke-width="0.1">2</text><text x="204.53" y="179.9" font-size="5.2" text-anchor="middle" textLength="4.2" lengthAdjust="spacingAndGlyphs" fill="#333" stroke="#333" stroke-width="0.2">10</text><text x="206.72" y="177.3" font-size="4.2" fill="#444" stroke="#444" stroke-width="0.1">3</text><text x="223" y="179.9" font-size="5.2" text-anchor="middle" textLength="4.2" lengthAdjust="spacingAndGlyphs" fill="#333" stroke="#333" stroke-width="0.2">10</text><text x="225.2" y="177.3" font-size="4.2" fill="#444" stroke="#444" stroke-width="0.1">4</text><text x="186.75" y="184.9" font-size="4.8" text-anchor="middle" textLength="21.6" lengthAdjust="spacingAndGlyphs" fill="#333">FL1-Height</text></g>
<g><path d="M258 172.6C258.73 172.43 260.88 172.08 262.4 171.6C263.92 171.12 265.52 170.82 267.1 169.7C268.68 168.58 270.57 166.75 271.9 164.9C273.23 163.05 274.17 160.98 275.1 158.6C276.03 156.22 276.85 153.25 277.5 150.6C278.15 147.95 278.48 144.68 279 142.7C279.52 140.72 280.1 139.23 280.6 138.7C281.1 138.17 281.6 139.63 282 139.5C282.4 139.37 282.57 137.63 283 137.9C283.43 138.17 284.07 140.43 284.6 141.1C285.13 141.77 285.53 141.23 286.2 141.9C286.87 142.57 287.93 143.92 288.6 145.1C289.27 146.28 289.68 146.75 290.2 149C290.72 151.25 291.18 155.68 291.7 158.6C292.22 161.52 292.77 164.52 293.3 166.5C293.83 168.48 294.28 169.48 294.9 170.5C295.52 171.52 296.65 172.25 297 172.6Z" fill="#7b7b7b" stroke="#111" stroke-width="0.95"/><path d="M275 172.6C275.83 171.83 278.5 170.1 280 168C281.5 165.9 282.83 162.83 284 160C285.17 157.17 285.97 153.48 287 151C288.03 148.52 289.45 145.43 290.2 145.1C290.95 144.77 291.12 146.75 291.5 149C291.88 151.25 292.07 155.68 292.5 158.6C292.93 161.52 293.52 164.43 294.1 166.5C294.68 168.57 295.35 169.98 296 171C296.65 172.02 297.67 172.33 298 172.6" fill="none" stroke="#6a6a6a" stroke-width="0.75"/><path d="M250 172.6C251.67 172.47 257.53 172.07 260 171.8C262.47 171.53 262.95 171.35 264.8 171C266.65 170.65 268.98 170.32 271.1 169.7C273.22 169.08 275.65 168.35 277.5 167.3C279.35 166.25 280.88 164.98 282.2 163.4C283.52 161.82 284.47 159.67 285.4 157.8C286.33 155.93 287 153.78 287.8 152.2C288.6 150.62 289.42 149.35 290.2 148.3C290.98 147.25 291.85 145.78 292.5 145.9C293.15 146.02 293.57 147.28 294.1 149C294.63 150.72 295.17 153.95 295.7 156.2C296.23 158.45 296.77 160.65 297.3 162.5C297.83 164.35 298.23 165.97 298.9 167.3C299.57 168.63 300.45 169.78 301.3 170.5C302.15 171.22 302.88 171.25 304 171.6C305.12 171.95 307.33 172.43 308 172.6" fill="none" stroke="#000" stroke-width="1.4"/><path d="M245.5 110.6H319.5V172.6" fill="none" stroke="#666" stroke-width="0.9"/><path d="M245.5 110.6V172.6" fill="none" stroke="#333" stroke-width="0.9"/><path d="M245.5 172.6H319.5" fill="none" stroke="#111" stroke-width="1.3"/><path d="M244.1 172.6h1.8M244.6 169.5h1.3M244.6 166.4h1.3M244.6 163.3h1.3M244.1 160.2h1.8M244.6 157.1h1.3M244.6 154h1.3M244.6 150.9h1.3M244.1 147.8h1.8M244.6 144.7h1.3M244.6 141.6h1.3M244.6 138.5h1.3M244.1 135.4h1.8M244.6 132.3h1.3M244.6 129.2h1.3M244.6 126.1h1.3M244.1 123h1.8M244.6 119.9h1.3M244.6 116.8h1.3M244.6 113.7h1.3M244.1 110.6h1.8" stroke="#111" stroke-width="0.8"/><path d="M245.5 172.6v1.6M251.07 172.6v0.9M254.33 172.6v0.9M256.64 172.6v0.9M258.43 172.6v0.9M259.9 172.6v0.9M261.13 172.6v0.9M262.21 172.6v0.9M263.15 172.6v0.9M264 172.6v1.6M269.57 172.6v0.9M272.83 172.6v0.9M275.14 172.6v0.9M276.93 172.6v0.9M278.4 172.6v0.9M279.63 172.6v0.9M280.71 172.6v0.9M281.65 172.6v0.9M282.5 172.6v1.6M288.07 172.6v0.9M291.33 172.6v0.9M293.64 172.6v0.9M295.43 172.6v0.9M296.9 172.6v0.9M298.13 172.6v0.9M299.21 172.6v0.9M300.15 172.6v0.9M301 172.6v1.6M306.57 172.6v0.9M309.83 172.6v0.9M312.14 172.6v0.9M313.93 172.6v0.9M315.4 172.6v0.9M316.63 172.6v0.9M317.71 172.6v0.9M318.65 172.6v0.9M319.5 172.6v1.6" stroke="#555" stroke-width="0.5"/><text transform="translate(241.4 172.6) rotate(-90)" font-size="4.3" text-anchor="middle" fill="#111" stroke="#111" stroke-width="0.3">0</text><text transform="translate(241.4 160.2) rotate(-90)" font-size="4.3" text-anchor="middle" fill="#111" stroke="#111" stroke-width="0.3">40</text><text transform="translate(241.4 147.8) rotate(-90)" font-size="4.3" text-anchor="middle" fill="#111" stroke="#111" stroke-width="0.3">80</text><text transform="translate(241.4 135.4) rotate(-90)" font-size="4.3" text-anchor="middle" fill="#111" stroke="#111" stroke-width="0.3">120</text><text transform="translate(241.4 123) rotate(-90)" font-size="4.3" text-anchor="middle" fill="#111" stroke="#111" stroke-width="0.3">160</text><text transform="translate(241.4 110.6) rotate(-90)" font-size="4.3" text-anchor="middle" fill="#111" stroke="#111" stroke-width="0.3">200</text><text transform="translate(236.9 142.4) rotate(-90)" font-size="4.7" text-anchor="middle" fill="#111" stroke="#111" stroke-width="0.25">Counts</text><text x="244" y="179.8" font-size="5.2" text-anchor="middle" textLength="4.2" lengthAdjust="spacingAndGlyphs" fill="#333" stroke="#333" stroke-width="0.2">10</text><text x="246.2" y="177.2" font-size="4.2" fill="#444" stroke="#444" stroke-width="0.1">0</text><text x="262.5" y="179.8" font-size="5.2" text-anchor="middle" textLength="4.2" lengthAdjust="spacingAndGlyphs" fill="#333" stroke="#333" stroke-width="0.2">10</text><text x="264.7" y="177.2" font-size="4.2" fill="#444" stroke="#444" stroke-width="0.1">1</text><text x="281" y="179.8" font-size="5.2" text-anchor="middle" textLength="4.2" lengthAdjust="spacingAndGlyphs" fill="#333" stroke="#333" stroke-width="0.2">10</text><text x="283.2" y="177.2" font-size="4.2" fill="#444" stroke="#444" stroke-width="0.1">2</text><text x="299.5" y="179.8" font-size="5.2" text-anchor="middle" textLength="4.2" lengthAdjust="spacingAndGlyphs" fill="#333" stroke="#333" stroke-width="0.2">10</text><text x="301.7" y="177.2" font-size="4.2" fill="#444" stroke="#444" stroke-width="0.1">3</text><text x="318" y="179.8" font-size="5.2" text-anchor="middle" textLength="4.2" lengthAdjust="spacingAndGlyphs" fill="#333" stroke="#333" stroke-width="0.2">10</text><text x="320.2" y="177.2" font-size="4.2" fill="#444" stroke="#444" stroke-width="0.1">4</text><text x="281.7" y="184.8" font-size="4.8" text-anchor="middle" textLength="21.6" lengthAdjust="spacingAndGlyphs" fill="#333">FL1-Height</text></g>
<g><path d="M349 172.5C349.4 172.3 350.42 171.8 351.4 171.3C352.38 170.8 353.72 170.62 354.9 169.5C356.08 168.38 357.55 166.83 358.5 164.6C359.45 162.37 360.02 159.38 360.6 156.1C361.18 152.82 361.53 148.42 362 144.9C362.47 141.38 363.03 137.05 363.4 135C363.77 132.95 363.87 134.43 364.2 132.6C364.53 130.77 364.88 126.47 365.4 124C365.92 121.53 366.73 118.3 367.3 117.8C367.87 117.3 368.35 119.3 368.8 121C369.25 122.7 369.63 125.17 370 128C370.37 130.83 370.58 134.67 371 138C371.42 141.33 371.92 144.83 372.5 148C373.08 151.17 373.83 154.17 374.5 157C375.17 159.83 375.83 162.83 376.5 165C377.17 167.17 377.75 168.75 378.5 170C379.25 171.25 380.58 172.08 381 172.5Z" fill="#7b7b7b" stroke="#111" stroke-width="0.95"/><path d="M360 172.5C360.83 172.08 363.67 172.08 365 170C366.33 167.92 367.25 164.17 368 160C368.75 155.83 369.08 150 369.5 145C369.92 140 370.17 134.5 370.5 130C370.83 125.5 371.13 120.67 371.5 118C371.87 115.33 372.28 113.67 372.7 114C373.12 114.33 373.53 117 374 120C374.47 123 375 127.33 375.5 132C376 136.67 376.43 142.8 377 148C377.57 153.2 378.23 159.7 378.9 163.2C379.57 166.7 380.15 167.45 381 169C381.85 170.55 383.5 171.92 384 172.5" fill="none" stroke="#6a6a6a" stroke-width="0.75"/><path d="M354 172.5C354.75 172.3 356.93 171.8 358.5 171.3C360.07 170.8 362.12 170.62 363.4 169.5C364.68 168.38 365.5 166.83 366.2 164.6C366.9 162.37 367.25 159.15 367.6 156.1C367.95 153.05 368.07 149.82 368.3 146.3C368.53 142.78 368.77 137.7 369 135C369.23 132.3 369.47 132.15 369.7 130.1C369.93 128.05 370.18 125.15 370.4 122.7C370.62 120.25 370.7 117.33 371 115.4C371.3 113.47 371.8 111.1 372.2 111.1C372.6 111.1 372.98 113.05 373.4 115.4C373.82 117.75 374.37 121.93 374.7 125.2C375.03 128.47 375.05 131.48 375.4 135C375.75 138.52 376.33 142.78 376.8 146.3C377.27 149.82 377.62 153.05 378.2 156.1C378.78 159.15 379.6 162.37 380.3 164.6C381 166.83 381.35 168.33 382.4 169.5C383.45 170.67 385.33 171.1 386.6 171.6C387.87 172.1 389.43 172.35 390 172.5" fill="none" stroke="#000" stroke-width="1.4"/><path d="M340.2 110.5H410.6V172.5" fill="none" stroke="#666" stroke-width="0.9"/><path d="M340.2 110.5V172.5" fill="none" stroke="#333" stroke-width="0.9"/><path d="M340.2 172.5H410.6" fill="none" stroke="#111" stroke-width="1.3"/><path d="M338.8 172.5h1.8M339.3 169.4h1.3M339.3 166.3h1.3M339.3 163.2h1.3M338.8 160.1h1.8M339.3 157h1.3M339.3 153.9h1.3M339.3 150.8h1.3M338.8 147.7h1.8M339.3 144.6h1.3M339.3 141.5h1.3M339.3 138.4h1.3M338.8 135.3h1.8M339.3 132.2h1.3M339.3 129.1h1.3M339.3 126h1.3M338.8 122.9h1.8M339.3 119.8h1.3M339.3 116.7h1.3M339.3 113.6h1.3M338.8 110.5h1.8" stroke="#111" stroke-width="0.8"/><path d="M340.2 172.5v1.6M345.5 172.5v0.9M348.6 172.5v0.9M350.8 172.5v0.9M352.5 172.5v0.9M353.9 172.5v0.9M355.07 172.5v0.9M356.09 172.5v0.9M356.99 172.5v0.9M357.8 172.5v1.6M363.1 172.5v0.9M366.2 172.5v0.9M368.4 172.5v0.9M370.1 172.5v0.9M371.5 172.5v0.9M372.67 172.5v0.9M373.69 172.5v0.9M374.59 172.5v0.9M375.4 172.5v1.6M380.7 172.5v0.9M383.8 172.5v0.9M386 172.5v0.9M387.7 172.5v0.9M389.1 172.5v0.9M390.27 172.5v0.9M391.29 172.5v0.9M392.19 172.5v0.9M393 172.5v1.6M398.3 172.5v0.9M401.4 172.5v0.9M403.6 172.5v0.9M405.3 172.5v0.9M406.7 172.5v0.9M407.87 172.5v0.9M408.89 172.5v0.9M409.79 172.5v0.9M410.6 172.5v1.6" stroke="#555" stroke-width="0.5"/><text transform="translate(336.1 172.5) rotate(-90)" font-size="4.3" text-anchor="middle" fill="#111" stroke="#111" stroke-width="0.3">0</text><text transform="translate(336.1 160.1) rotate(-90)" font-size="4.3" text-anchor="middle" fill="#111" stroke="#111" stroke-width="0.3">40</text><text transform="translate(336.1 147.7) rotate(-90)" font-size="4.3" text-anchor="middle" fill="#111" stroke="#111" stroke-width="0.3">80</text><text transform="translate(336.1 135.3) rotate(-90)" font-size="4.3" text-anchor="middle" fill="#111" stroke="#111" stroke-width="0.3">120</text><text transform="translate(336.1 122.9) rotate(-90)" font-size="4.3" text-anchor="middle" fill="#111" stroke="#111" stroke-width="0.3">160</text><text transform="translate(336.1 110.5) rotate(-90)" font-size="4.3" text-anchor="middle" fill="#111" stroke="#111" stroke-width="0.3">200</text><text transform="translate(331.6 142.3) rotate(-90)" font-size="4.7" text-anchor="middle" fill="#111" stroke="#111" stroke-width="0.25">Counts</text><text x="338.7" y="179.7" font-size="5.2" text-anchor="middle" textLength="4.2" lengthAdjust="spacingAndGlyphs" fill="#333" stroke="#333" stroke-width="0.2">10</text><text x="340.9" y="177.1" font-size="4.2" fill="#444" stroke="#444" stroke-width="0.1">0</text><text x="356.3" y="179.7" font-size="5.2" text-anchor="middle" textLength="4.2" lengthAdjust="spacingAndGlyphs" fill="#333" stroke="#333" stroke-width="0.2">10</text><text x="358.5" y="177.1" font-size="4.2" fill="#444" stroke="#444" stroke-width="0.1">1</text><text x="373.9" y="179.7" font-size="5.2" text-anchor="middle" textLength="4.2" lengthAdjust="spacingAndGlyphs" fill="#333" stroke="#333" stroke-width="0.2">10</text><text x="376.1" y="177.1" font-size="4.2" fill="#444" stroke="#444" stroke-width="0.1">2</text><text x="391.5" y="179.7" font-size="5.2" text-anchor="middle" textLength="4.2" lengthAdjust="spacingAndGlyphs" fill="#333" stroke="#333" stroke-width="0.2">10</text><text x="393.7" y="177.1" font-size="4.2" fill="#444" stroke="#444" stroke-width="0.1">3</text><text x="409.1" y="179.7" font-size="5.2" text-anchor="middle" textLength="4.2" lengthAdjust="spacingAndGlyphs" fill="#333" stroke="#333" stroke-width="0.2">10</text><text x="411.3" y="177.1" font-size="4.2" fill="#444" stroke="#444" stroke-width="0.1">4</text><text x="374.6" y="184.7" font-size="4.8" text-anchor="middle" textLength="21.6" lengthAdjust="spacingAndGlyphs" fill="#333">FL1-Height</text></g>
<g><path d="M437 175.3C437.18 175.3 437.33 175.53 438.1 175.3C438.87 175.07 440.07 174.73 441.6 173.9C443.13 173.07 445.65 171.83 447.3 170.3C448.95 168.77 450.38 166.58 451.5 164.7C452.62 162.82 453.3 160.62 454 159C454.7 157.38 455.18 155.92 455.7 155C456.22 154.08 456.55 153.5 457.1 153.5C457.65 153.5 458.35 154.67 459 155C459.65 155.33 460.33 155.5 461 155.5C461.67 155.5 462.42 154.92 463 155C463.58 155.08 464 155.58 464.5 156C465 156.42 465.42 156.58 466 157.5C466.58 158.42 467.25 160 468 161.5C468.75 163 469.58 164.95 470.5 166.5C471.42 168.05 472.42 169.55 473.5 170.8C474.58 172.05 475.92 173.25 477 174C478.08 174.75 479.5 175.08 480 175.3Z" fill="#7b7b7b" stroke="#111" stroke-width="0.95"/><path d="M439 175.3C439.78 174.83 442.2 173.68 443.7 172.5C445.2 171.32 446.82 169.85 448 168.2C449.18 166.55 449.87 164.58 450.8 162.6C451.73 160.62 452.67 158.17 453.6 156.3C454.53 154.43 455.58 151.63 456.4 151.4C457.22 151.17 457.8 154.08 458.5 154.9C459.2 155.72 459.9 155.72 460.6 156.3C461.3 156.88 462.35 158.05 462.7 158.4" fill="none" stroke="#6a6a6a" stroke-width="0.75"/><path d="M440 175.3C440.73 175.27 442.25 175.22 444.4 175.1C446.55 174.98 450.32 174.92 452.9 174.6C455.48 174.28 458.48 173.67 459.9 173.2C461.32 172.73 460.68 172.98 461.4 171.8C462.12 170.62 463.27 167.98 464.2 166.1C465.13 164.22 466.07 162.6 467 160.5C467.93 158.4 468.97 155.5 469.8 153.5C470.63 151.5 471.28 150.03 472 148.5C472.72 146.97 473.4 144.3 474.1 144.3C474.8 144.3 475.62 146.97 476.2 148.5C476.78 150.03 477.02 151.73 477.6 153.5C478.18 155.27 479 157.23 479.7 159.1C480.4 160.97 481.1 162.83 481.8 164.7C482.5 166.57 483.2 168.77 483.9 170.3C484.6 171.83 485.07 173.1 486 173.9C486.93 174.7 488.17 174.87 489.5 175.1C490.83 175.33 493.25 175.27 494 175.3" fill="none" stroke="#000" stroke-width="1.4"/><path d="M434.8 110H512.5V175.3" fill="none" stroke="#666" stroke-width="0.9"/><path d="M434.8 110V175.3" fill="none" stroke="#333" stroke-width="0.9"/><path d="M434.8 175.3H512.5" fill="none" stroke="#111" stroke-width="1.3"/><path d="M433.4 175.3h1.8M433.9 172.04h1.3M433.9 168.77h1.3M433.9 165.5h1.3M433.4 162.24h1.8M433.9 158.98h1.3M433.9 155.71h1.3M433.9 152.44h1.3M433.4 149.18h1.8M433.9 145.92h1.3M433.9 142.65h1.3M433.9 139.38h1.3M433.4 136.12h1.8M433.9 132.86h1.3M433.9 129.59h1.3M433.9 126.33h1.3M433.4 123.06h1.8M433.9 119.8h1.3M433.9 116.53h1.3M433.9 113.27h1.3M433.4 110h1.8" stroke="#111" stroke-width="0.8"/><path d="M434.8 175.3v1.6M440.65 175.3v0.9M444.07 175.3v0.9M446.5 175.3v0.9M448.38 175.3v0.9M449.92 175.3v0.9M451.22 175.3v0.9M452.34 175.3v0.9M453.34 175.3v0.9M454.23 175.3v1.6M460.07 175.3v0.9M463.49 175.3v0.9M465.92 175.3v0.9M467.8 175.3v0.9M469.34 175.3v0.9M470.64 175.3v0.9M471.77 175.3v0.9M472.76 175.3v0.9M473.65 175.3v1.6M479.5 175.3v0.9M482.92 175.3v0.9M485.35 175.3v0.9M487.23 175.3v0.9M488.77 175.3v0.9M490.07 175.3v0.9M491.19 175.3v0.9M492.19 175.3v0.9M493.07 175.3v1.6M498.92 175.3v0.9M502.34 175.3v0.9M504.77 175.3v0.9M506.65 175.3v0.9M508.19 175.3v0.9M509.49 175.3v0.9M510.62 175.3v0.9M511.61 175.3v0.9M512.5 175.3v1.6" stroke="#555" stroke-width="0.5"/><text transform="translate(430.7 175.3) rotate(-90)" font-size="4.3" text-anchor="middle" fill="#111" stroke="#111" stroke-width="0.3">0</text><text transform="translate(430.7 162.24) rotate(-90)" font-size="4.3" text-anchor="middle" fill="#111" stroke="#111" stroke-width="0.3">40</text><text transform="translate(430.7 149.18) rotate(-90)" font-size="4.3" text-anchor="middle" fill="#111" stroke="#111" stroke-width="0.3">80</text><text transform="translate(430.7 136.12) rotate(-90)" font-size="4.3" text-anchor="middle" fill="#111" stroke="#111" stroke-width="0.3">120</text><text transform="translate(430.7 123.06) rotate(-90)" font-size="4.3" text-anchor="middle" fill="#111" stroke="#111" stroke-width="0.3">160</text><text transform="translate(430.7 110) rotate(-90)" font-size="4.3" text-anchor="middle" fill="#111" stroke="#111" stroke-width="0.3">200</text><text transform="translate(426.2 143.45) rotate(-90)" font-size="4.7" text-anchor="middle" fill="#111" stroke="#111" stroke-width="0.25">Counts</text><text x="433.3" y="182.5" font-size="5.2" text-anchor="middle" textLength="4.2" lengthAdjust="spacingAndGlyphs" fill="#333" stroke="#333" stroke-width="0.2">10</text><text x="435.5" y="179.9" font-size="4.2" fill="#444" stroke="#444" stroke-width="0.1">0</text><text x="452.73" y="182.5" font-size="5.2" text-anchor="middle" textLength="4.2" lengthAdjust="spacingAndGlyphs" fill="#333" stroke="#333" stroke-width="0.2">10</text><text x="454.93" y="179.9" font-size="4.2" fill="#444" stroke="#444" stroke-width="0.1">1</text><text x="472.15" y="182.5" font-size="5.2" text-anchor="middle" textLength="4.2" lengthAdjust="spacingAndGlyphs" fill="#333" stroke="#333" stroke-width="0.2">10</text><text x="474.35" y="179.9" font-size="4.2" fill="#444" stroke="#444" stroke-width="0.1">2</text><text x="491.57" y="182.5" font-size="5.2" text-anchor="middle" textLength="4.2" lengthAdjust="spacingAndGlyphs" fill="#333" stroke="#333" stroke-width="0.2">10</text><text x="493.77" y="179.9" font-size="4.2" fill="#444" stroke="#444" stroke-width="0.1">3</text><text x="511" y="182.5" font-size="5.2" text-anchor="middle" textLength="4.2" lengthAdjust="spacingAndGlyphs" fill="#333" stroke="#333" stroke-width="0.2">10</text><text x="513.2" y="179.9" font-size="4.2" fill="#444" stroke="#444" stroke-width="0.1">4</text><text x="472.85" y="187.5" font-size="4.8" text-anchor="middle" textLength="21.6" lengthAdjust="spacingAndGlyphs" fill="#333">FL1-Height</text></g>
<g><path d="M48.8 264C48.9 263.82 49.08 263.3 49.4 262.9C49.72 262.5 50.13 262.5 50.7 261.6C51.27 260.7 52.22 259.45 52.8 257.5C53.38 255.55 53.75 252.98 54.2 249.9C54.65 246.82 55.12 242.15 55.5 239C55.88 235.85 56.15 233.68 56.5 231C56.85 228.32 57.28 225.68 57.6 222.9C57.92 220.12 58.12 216.65 58.4 214.3C58.68 211.95 58.98 208.8 59.3 208.8C59.62 208.8 60.03 211.95 60.3 214.3C60.57 216.65 60.7 220.23 60.9 222.9C61.1 225.57 61.28 227.78 61.5 230.3C61.72 232.82 61.98 234.73 62.2 238C62.42 241.27 62.53 246.77 62.8 249.9C63.07 253.03 63.42 254.97 63.8 256.8C64.18 258.63 64.53 259.88 65.1 260.9C65.67 261.92 66.55 262.38 67.2 262.9C67.85 263.42 68.7 263.82 69 264Z" fill="#7b7b7b" stroke="#111" stroke-width="0.95"/><path d="M58 264C58.5 263.33 60.17 262 61 260C61.83 258 62.5 256 63 252C63.5 248 63.6 240.23 64 236C64.4 231.77 64.85 228.93 65.4 226.6C65.95 224.27 66.8 222.43 67.3 222C67.8 221.57 68.03 222.33 68.4 224C68.77 225.67 69.07 229.33 69.5 232C69.93 234.67 70.42 237 71 240C71.58 243 72.33 247.17 73 250C73.67 252.83 74.17 255 75 257C75.83 259 76.83 260.83 78 262C79.17 263.17 81.33 263.67 82 264" fill="none" stroke="#444" stroke-width="0.85"/><path d="M60 264C60.5 263 62.17 260.83 63 258C63.83 255.17 64.42 251.32 65 247C65.58 242.68 66 235.93 66.5 232.1C67 228.27 67.4 226.05 68 224C68.6 221.95 69.43 219.37 70.1 219.8C70.77 220.23 71.48 223.9 72 226.6C72.52 229.3 72.87 232.93 73.2 236C73.53 239.07 73.7 242.22 74 245C74.3 247.78 74.65 250.28 75 252.7C75.35 255.12 75.43 257.78 76.1 259.5C76.77 261.22 77.85 262.25 79 263C80.15 263.75 82.33 263.83 83 264" fill="none" stroke="#6a6a6a" stroke-width="0.75"/><path d="M50 264C50.8 263.88 53.3 263.6 54.8 263.3C56.3 263 57.92 262.95 59 262.2C60.08 261.45 60.6 260.38 61.3 258.8C62 257.22 62.6 255.1 63.2 252.7C63.8 250.3 64.33 247.43 64.9 244.4C65.47 241.37 66.15 236.98 66.6 234.5C67.05 232.02 67.3 230.55 67.6 229.5C67.9 228.45 68.12 228.2 68.4 228.2C68.68 228.2 68.9 228.4 69.3 229.5C69.7 230.6 70.25 232.32 70.8 234.8C71.35 237.28 71.97 241.42 72.6 244.4C73.23 247.38 73.9 250.3 74.6 252.7C75.3 255.1 75.87 257.25 76.8 258.8C77.73 260.35 78.6 261.32 80.2 262C81.8 262.68 84.47 262.68 86.4 262.9C88.33 263.12 90.2 263.12 91.8 263.3C93.4 263.48 95.3 263.88 96 264" fill="none" stroke="#000" stroke-width="1.4"/><path d="M48.6 201.4H130V264" fill="none" stroke="#666" stroke-width="0.9"/><path d="M48.6 201.4V264" fill="none" stroke="#333" stroke-width="0.9"/><path d="M48.6 264H130" fill="none" stroke="#111" stroke-width="1.3"/><path d="M47.2 264h1.8M47.7 260.87h1.3M47.7 257.74h1.3M47.7 254.61h1.3M47.2 251.48h1.8M47.7 248.35h1.3M47.7 245.22h1.3M47.7 242.09h1.3M47.2 238.96h1.8M47.7 235.83h1.3M47.7 232.7h1.3M47.7 229.57h1.3M47.2 226.44h1.8M47.7 223.31h1.3M47.7 220.18h1.3M47.7 217.05h1.3M47.2 213.92h1.8M47.7 210.79h1.3M47.7 207.66h1.3M47.7 204.53h1.3M47.2 201.4h1.8" stroke="#111" stroke-width="0.8"/><path d="M48.6 264v1.6M54.73 264v0.9M58.31 264v0.9M60.85 264v0.9M62.82 264v0.9M64.44 264v0.9M65.8 264v0.9M66.98 264v0.9M68.02 264v0.9M68.95 264v1.6M75.08 264v0.9M78.66 264v0.9M81.2 264v0.9M83.17 264v0.9M84.79 264v0.9M86.15 264v0.9M87.33 264v0.9M88.37 264v0.9M89.3 264v1.6M95.43 264v0.9M99.01 264v0.9M101.55 264v0.9M103.52 264v0.9M105.14 264v0.9M106.5 264v0.9M107.68 264v0.9M108.72 264v0.9M109.65 264v1.6M115.78 264v0.9M119.36 264v0.9M121.9 264v0.9M123.87 264v0.9M125.49 264v0.9M126.85 264v0.9M128.03 264v0.9M129.07 264v0.9M130 264v1.6" stroke="#555" stroke-width="0.5"/><text transform="translate(44.5 264) rotate(-90)" font-size="4.3" text-anchor="middle" fill="#111" stroke="#111" stroke-width="0.3">0</text><text transform="translate(44.5 251.48) rotate(-90)" font-size="4.3" text-anchor="middle" fill="#111" stroke="#111" stroke-width="0.3">40</text><text transform="translate(44.5 238.96) rotate(-90)" font-size="4.3" text-anchor="middle" fill="#111" stroke="#111" stroke-width="0.3">80</text><text transform="translate(44.5 226.44) rotate(-90)" font-size="4.3" text-anchor="middle" fill="#111" stroke="#111" stroke-width="0.3">120</text><text transform="translate(44.5 213.92) rotate(-90)" font-size="4.3" text-anchor="middle" fill="#111" stroke="#111" stroke-width="0.3">160</text><text transform="translate(44.5 201.4) rotate(-90)" font-size="4.3" text-anchor="middle" fill="#111" stroke="#111" stroke-width="0.3">200</text><text transform="translate(40 233.5) rotate(-90)" font-size="4.7" text-anchor="middle" fill="#111" stroke="#111" stroke-width="0.25">Counts</text><text x="47.1" y="271.2" font-size="5.2" text-anchor="middle" textLength="4.2" lengthAdjust="spacingAndGlyphs" fill="#333" stroke="#333" stroke-width="0.2">10</text><text x="49.3" y="268.6" font-size="4.2" fill="#444" stroke="#444" stroke-width="0.1">0</text><text x="67.45" y="271.2" font-size="5.2" text-anchor="middle" textLength="4.2" lengthAdjust="spacingAndGlyphs" fill="#333" stroke="#333" stroke-width="0.2">10</text><text x="69.65" y="268.6" font-size="4.2" fill="#444" stroke="#444" stroke-width="0.1">1</text><text x="87.8" y="271.2" font-size="5.2" text-anchor="middle" textLength="4.2" lengthAdjust="spacingAndGlyphs" fill="#333" stroke="#333" stroke-width="0.2">10</text><text x="90" y="268.6" font-size="4.2" fill="#444" stroke="#444" stroke-width="0.1">2</text><text x="108.15" y="271.2" font-size="5.2" text-anchor="middle" textLength="4.2" lengthAdjust="spacingAndGlyphs" fill="#333" stroke="#333" stroke-width="0.2">10</text><text x="110.35" y="268.6" font-size="4.2" fill="#444" stroke="#444" stroke-width="0.1">3</text><text x="128.5" y="271.2" font-size="5.2" text-anchor="middle" textLength="4.2" lengthAdjust="spacingAndGlyphs" fill="#333" stroke="#333" stroke-width="0.2">10</text><text x="130.7" y="268.6" font-size="4.2" fill="#444" stroke="#444" stroke-width="0.1">4</text><text x="88.5" y="276.2" font-size="4.8" text-anchor="middle" textLength="21.6" lengthAdjust="spacingAndGlyphs" fill="#333">FL1-Height</text></g>
<g><path d="M154.5 263.5C154.83 263.3 155.58 262.92 156.5 262.3C157.42 261.68 158.95 261.17 160 259.8C161.05 258.43 161.87 256.45 162.8 254.1C163.73 251.75 164.67 248.5 165.6 245.7C166.53 242.9 167.62 239.42 168.4 237.3C169.18 235.18 169.83 233.95 170.3 233C170.77 232.05 170.92 231.6 171.2 231.6C171.48 231.6 171.7 232.3 172 233C172.3 233.7 172.5 234.15 173 235.8C173.5 237.45 174.35 240.55 175 242.9C175.65 245.25 176.27 247.68 176.9 249.9C177.53 252.12 178.15 254.43 178.8 256.2C179.45 257.97 180.02 259.37 180.8 260.5C181.58 261.63 182.72 262.5 183.5 263C184.28 263.5 185.17 263.42 185.5 263.5Z" fill="#7b7b7b" stroke="#111" stroke-width="0.95"/><path d="M156 263.5C156.42 263.42 157.62 263.38 158.5 263C159.38 262.62 160.35 262.45 161.3 261.2C162.25 259.95 163.27 257.85 164.2 255.5C165.13 253.15 166.02 250.13 166.9 247.1C167.78 244.07 168.82 239.65 169.5 237.3C170.18 234.95 170.62 233.8 171 233C171.38 232.2 171.5 232.25 171.8 232.5C172.1 232.75 172.3 233.08 172.8 234.5C173.3 235.92 174.13 238.67 174.8 241C175.47 243.33 176.12 246.08 176.8 248.5C177.48 250.92 178.2 253.53 178.9 255.5C179.6 257.47 180.07 259.17 181 260.3C181.93 261.43 182.77 261.88 184.5 262.3C186.23 262.72 189.48 262.6 191.4 262.8C193.32 263 195.23 263.38 196 263.5" fill="none" stroke="#000" stroke-width="1.4"/><path d="M150.8 201.3H225V263.5" fill="none" stroke="#666" stroke-width="0.9"/><path d="M150.8 201.3V263.5" fill="none" stroke="#333" stroke-width="0.9"/><path d="M150.8 263.5H225" fill="none" stroke="#111" stroke-width="1.3"/><path d="M149.4 263.5h1.8M149.9 260.39h1.3M149.9 257.28h1.3M149.9 254.17h1.3M149.4 251.06h1.8M149.9 247.95h1.3M149.9 244.84h1.3M149.9 241.73h1.3M149.4 238.62h1.8M149.9 235.51h1.3M149.9 232.4h1.3M149.9 229.29h1.3M149.4 226.18h1.8M149.9 223.07h1.3M149.9 219.96h1.3M149.9 216.85h1.3M149.4 213.74h1.8M149.9 210.63h1.3M149.9 207.52h1.3M149.9 204.41h1.3M149.4 201.3h1.8" stroke="#111" stroke-width="0.8"/><path d="M150.8 263.5v1.6M156.38 263.5v0.9M159.65 263.5v0.9M161.97 263.5v0.9M163.77 263.5v0.9M165.23 263.5v0.9M166.48 263.5v0.9M167.55 263.5v0.9M168.5 263.5v0.9M169.35 263.5v1.6M174.93 263.5v0.9M178.2 263.5v0.9M180.52 263.5v0.9M182.32 263.5v0.9M183.78 263.5v0.9M185.03 263.5v0.9M186.1 263.5v0.9M187.05 263.5v0.9M187.9 263.5v1.6M193.48 263.5v0.9M196.75 263.5v0.9M199.07 263.5v0.9M200.87 263.5v0.9M202.33 263.5v0.9M203.58 263.5v0.9M204.65 263.5v0.9M205.6 263.5v0.9M206.45 263.5v1.6M212.03 263.5v0.9M215.3 263.5v0.9M217.62 263.5v0.9M219.42 263.5v0.9M220.88 263.5v0.9M222.13 263.5v0.9M223.2 263.5v0.9M224.15 263.5v0.9M225 263.5v1.6" stroke="#555" stroke-width="0.5"/><text transform="translate(146.7 263.5) rotate(-90)" font-size="4.3" text-anchor="middle" fill="#111" stroke="#111" stroke-width="0.3">0</text><text transform="translate(146.7 251.06) rotate(-90)" font-size="4.3" text-anchor="middle" fill="#111" stroke="#111" stroke-width="0.3">40</text><text transform="translate(146.7 238.62) rotate(-90)" font-size="4.3" text-anchor="middle" fill="#111" stroke="#111" stroke-width="0.3">80</text><text transform="translate(146.7 226.18) rotate(-90)" font-size="4.3" text-anchor="middle" fill="#111" stroke="#111" stroke-width="0.3">120</text><text transform="translate(146.7 213.74) rotate(-90)" font-size="4.3" text-anchor="middle" fill="#111" stroke="#111" stroke-width="0.3">160</text><text transform="translate(146.7 201.3) rotate(-90)" font-size="4.3" text-anchor="middle" fill="#111" stroke="#111" stroke-width="0.3">200</text><text transform="translate(142.2 233.2) rotate(-90)" font-size="4.7" text-anchor="middle" fill="#111" stroke="#111" stroke-width="0.25">Counts</text><text x="149.3" y="270.7" font-size="5.2" text-anchor="middle" textLength="4.2" lengthAdjust="spacingAndGlyphs" fill="#333" stroke="#333" stroke-width="0.2">10</text><text x="151.5" y="268.1" font-size="4.2" fill="#444" stroke="#444" stroke-width="0.1">0</text><text x="167.85" y="270.7" font-size="5.2" text-anchor="middle" textLength="4.2" lengthAdjust="spacingAndGlyphs" fill="#333" stroke="#333" stroke-width="0.2">10</text><text x="170.05" y="268.1" font-size="4.2" fill="#444" stroke="#444" stroke-width="0.1">1</text><text x="186.4" y="270.7" font-size="5.2" text-anchor="middle" textLength="4.2" lengthAdjust="spacingAndGlyphs" fill="#333" stroke="#333" stroke-width="0.2">10</text><text x="188.6" y="268.1" font-size="4.2" fill="#444" stroke="#444" stroke-width="0.1">2</text><text x="204.95" y="270.7" font-size="5.2" text-anchor="middle" textLength="4.2" lengthAdjust="spacingAndGlyphs" fill="#333" stroke="#333" stroke-width="0.2">10</text><text x="207.15" y="268.1" font-size="4.2" fill="#444" stroke="#444" stroke-width="0.1">3</text><text x="223.5" y="270.7" font-size="5.2" text-anchor="middle" textLength="4.2" lengthAdjust="spacingAndGlyphs" fill="#333" stroke="#333" stroke-width="0.2">10</text><text x="225.7" y="268.1" font-size="4.2" fill="#444" stroke="#444" stroke-width="0.1">4</text><text x="187.1" y="275.7" font-size="4.8" text-anchor="middle" textLength="21.6" lengthAdjust="spacingAndGlyphs" fill="#333">FL1-Height</text></g>
<g><path d="M246.5 263.2C246.65 263.08 246.83 263.25 247.4 262.5C247.97 261.75 249.2 260.45 249.9 258.7C250.6 256.95 251.03 254.82 251.6 252C252.17 249.18 252.78 245.2 253.3 241.8C253.82 238.4 254.22 234.4 254.7 231.6C255.18 228.8 255.72 225 256.2 225C256.68 225 257.17 229.1 257.6 231.6C258.03 234.1 258.4 237.93 258.8 240C259.2 242.07 259.55 243.17 260 244C260.45 244.83 260.97 244.62 261.5 245C262.03 245.38 262.3 245.17 263.2 246.3C264.1 247.43 265.37 249.97 266.9 251.8C268.43 253.63 270.57 255.93 272.4 257.3C274.23 258.67 276.07 259.23 277.9 260C279.73 260.77 281.38 261.37 283.4 261.9C285.42 262.43 288.9 262.98 290 263.2Z" fill="#7b7b7b" stroke="#111" stroke-width="0.95"/><path d="M245.2 263C245.27 262.08 245.4 257.67 245.6 257.5C245.8 257.33 246.07 261.08 246.4 262C246.73 262.92 246.93 263.02 247.6 263C248.27 262.98 249.33 262.85 250.4 261.9C251.47 260.95 252.93 259.6 254 257.3C255.07 255 256.03 250.85 256.8 248.1C257.57 245.35 257.98 242.48 258.6 240.8C259.22 239.12 259.85 238.3 260.5 238C261.15 237.7 261.75 238.23 262.5 239C263.25 239.77 263.65 240.92 265 242.6C266.35 244.28 268.77 247.1 270.6 249.1C272.43 251.1 274.47 252.92 276 254.6C277.53 256.28 277.95 257.97 279.8 259.2C281.65 260.43 284.65 261.37 287.1 262C289.55 262.63 292.35 262.8 294.5 263C296.65 263.2 299.08 263.17 300 263.2" fill="none" stroke="#000" stroke-width="1.4"/><path d="M245.8 200.8H319.8V263.2" fill="none" stroke="#666" stroke-width="0.9"/><path d="M245.8 200.8V263.2" fill="none" stroke="#333" stroke-width="0.9"/><path d="M245.8 263.2H319.8" fill="none" stroke="#111" stroke-width="1.3"/><path d="M244.4 263.2h1.8M244.9 260.08h1.3M244.9 256.96h1.3M244.9 253.84h1.3M244.4 250.72h1.8M244.9 247.6h1.3M244.9 244.48h1.3M244.9 241.36h1.3M244.4 238.24h1.8M244.9 235.12h1.3M244.9 232h1.3M244.9 228.88h1.3M244.4 225.76h1.8M244.9 222.64h1.3M244.9 219.52h1.3M244.9 216.4h1.3M244.4 213.28h1.8M244.9 210.16h1.3M244.9 207.04h1.3M244.9 203.92h1.3M244.4 200.8h1.8" stroke="#111" stroke-width="0.8"/><path d="M245.8 263.2v1.6M251.37 263.2v0.9M254.63 263.2v0.9M256.94 263.2v0.9M258.73 263.2v0.9M260.2 263.2v0.9M261.43 263.2v0.9M262.51 263.2v0.9M263.45 263.2v0.9M264.3 263.2v1.6M269.87 263.2v0.9M273.13 263.2v0.9M275.44 263.2v0.9M277.23 263.2v0.9M278.7 263.2v0.9M279.93 263.2v0.9M281.01 263.2v0.9M281.95 263.2v0.9M282.8 263.2v1.6M288.37 263.2v0.9M291.63 263.2v0.9M293.94 263.2v0.9M295.73 263.2v0.9M297.2 263.2v0.9M298.43 263.2v0.9M299.51 263.2v0.9M300.45 263.2v0.9M301.3 263.2v1.6M306.87 263.2v0.9M310.13 263.2v0.9M312.44 263.2v0.9M314.23 263.2v0.9M315.7 263.2v0.9M316.93 263.2v0.9M318.01 263.2v0.9M318.95 263.2v0.9M319.8 263.2v1.6" stroke="#555" stroke-width="0.5"/><text transform="translate(241.7 263.2) rotate(-90)" font-size="4.3" text-anchor="middle" fill="#111" stroke="#111" stroke-width="0.3">0</text><text transform="translate(241.7 250.72) rotate(-90)" font-size="4.3" text-anchor="middle" fill="#111" stroke="#111" stroke-width="0.3">40</text><text transform="translate(241.7 238.24) rotate(-90)" font-size="4.3" text-anchor="middle" fill="#111" stroke="#111" stroke-width="0.3">80</text><text transform="translate(241.7 225.76) rotate(-90)" font-size="4.3" text-anchor="middle" fill="#111" stroke="#111" stroke-width="0.3">120</text><text transform="translate(241.7 213.28) rotate(-90)" font-size="4.3" text-anchor="middle" fill="#111" stroke="#111" stroke-width="0.3">160</text><text transform="translate(241.7 200.8) rotate(-90)" font-size="4.3" text-anchor="middle" fill="#111" stroke="#111" stroke-width="0.3">200</text><text transform="translate(237.2 232.8) rotate(-90)" font-size="4.7" text-anchor="middle" fill="#111" stroke="#111" stroke-width="0.25">Counts</text><text x="244.3" y="270.4" font-size="5.2" text-anchor="middle" textLength="4.2" lengthAdjust="spacingAndGlyphs" fill="#333" stroke="#333" stroke-width="0.2">10</text><text x="246.5" y="267.8" font-size="4.2" fill="#444" stroke="#444" stroke-width="0.1">0</text><text x="262.8" y="270.4" font-size="5.2" text-anchor="middle" textLength="4.2" lengthAdjust="spacingAndGlyphs" fill="#333" stroke="#333" stroke-width="0.2">10</text><text x="265" y="267.8" font-size="4.2" fill="#444" stroke="#444" stroke-width="0.1">1</text><text x="281.3" y="270.4" font-size="5.2" text-anchor="middle" textLength="4.2" lengthAdjust="spacingAndGlyphs" fill="#333" stroke="#333" stroke-width="0.2">10</text><text x="283.5" y="267.8" font-size="4.2" fill="#444" stroke="#444" stroke-width="0.1">2</text><text x="299.8" y="270.4" font-size="5.2" text-anchor="middle" textLength="4.2" lengthAdjust="spacingAndGlyphs" fill="#333" stroke="#333" stroke-width="0.2">10</text><text x="302" y="267.8" font-size="4.2" fill="#444" stroke="#444" stroke-width="0.1">3</text><text x="318.3" y="270.4" font-size="5.2" text-anchor="middle" textLength="4.2" lengthAdjust="spacingAndGlyphs" fill="#333" stroke="#333" stroke-width="0.2">10</text><text x="320.5" y="267.8" font-size="4.2" fill="#444" stroke="#444" stroke-width="0.1">4</text><text x="282" y="275.4" font-size="4.8" text-anchor="middle" textLength="21.6" lengthAdjust="spacingAndGlyphs" fill="#333">FL1-Height</text></g>
<g><path d="M345 262.8C345.25 262.33 345.95 261.53 346.5 260C347.05 258.47 347.7 256.77 348.3 253.6C348.9 250.43 349.5 245.2 350.1 241C350.7 236.8 351.3 231.55 351.9 228.4C352.5 225.25 353.15 222.83 353.7 222.1C354.25 221.37 354.68 224.15 355.2 224C355.72 223.85 356.3 220.17 356.8 221.2C357.3 222.23 357.82 226.9 358.2 230.2C358.58 233.5 358.8 237.4 359.1 241C359.4 244.6 359.7 248.8 360 251.8C360.3 254.8 360.57 257.17 360.9 259C361.23 260.83 361.82 262.17 362 262.8Z" fill="#7b7b7b" stroke="#111" stroke-width="0.95"/><path d="M348 262.8C348.5 261.5 350.17 258.8 351 255C351.83 251.2 352.33 244.5 353 240C353.67 235.5 354.42 230.75 355 228C355.58 225.25 355.97 224.33 356.5 223.5C357.03 222.67 357.62 221.58 358.2 223C358.78 224.42 359.45 228.1 360 232C360.55 235.9 361.05 242.05 361.5 246.4C361.95 250.75 362.28 255.37 362.7 258.1C363.12 260.83 363.78 262.02 364 262.8" fill="none" stroke="#6a6a6a" stroke-width="0.75"/><path d="M358 262.8C358.42 262.42 359.87 261.8 360.5 260.5C361.13 259.2 361.42 257.58 361.8 255C362.18 252.42 362.43 248.33 362.8 245C363.17 241.67 363.55 237.92 364 235C364.45 232.08 365.08 228.92 365.5 227.5C365.92 226.08 366.12 225.92 366.5 226.5C366.88 227.08 367.42 228.42 367.8 231C368.18 233.58 368.43 238.5 368.8 242C369.17 245.5 369.55 249.17 370 252C370.45 254.83 370.83 257.2 371.5 259C372.17 260.8 373.58 262.17 374 262.8" fill="none" stroke="#222" stroke-width="0.9"/><path d="M355 262.8C355.77 262.72 358.53 262.93 359.6 262.3C360.67 261.67 360.87 260.75 361.4 259C361.93 257.25 362.37 254.8 362.8 251.8C363.23 248.8 363.58 244.6 364 241C364.42 237.4 364.82 232.93 365.3 230.2C365.78 227.47 366.37 224.6 366.9 224.6C367.43 224.6 368.07 227.47 368.5 230.2C368.93 232.93 369.15 237.4 369.5 241C369.85 244.6 370.13 248.8 370.6 251.8C371.07 254.8 371.57 257.35 372.3 259C373.03 260.65 373.88 261.07 375 261.7C376.12 262.33 378.33 262.62 379 262.8" fill="none" stroke="#000" stroke-width="1.4"/><path d="M340.6 200.6H410.6V262.8" fill="none" stroke="#666" stroke-width="0.9"/><path d="M340.6 200.6V262.8" fill="none" stroke="#333" stroke-width="0.9"/><path d="M340.6 262.8H410.6" fill="none" stroke="#111" stroke-width="1.3"/><path d="M339.2 262.8h1.8M339.7 259.69h1.3M339.7 256.58h1.3M339.7 253.47h1.3M339.2 250.36h1.8M339.7 247.25h1.3M339.7 244.14h1.3M339.7 241.03h1.3M339.2 237.92h1.8M339.7 234.81h1.3M339.7 231.7h1.3M339.7 228.59h1.3M339.2 225.48h1.8M339.7 222.37h1.3M339.7 219.26h1.3M339.7 216.15h1.3M339.2 213.04h1.8M339.7 209.93h1.3M339.7 206.82h1.3M339.7 203.71h1.3M339.2 200.6h1.8" stroke="#111" stroke-width="0.8"/><path d="M340.6 262.8v1.6M345.87 262.8v0.9M348.95 262.8v0.9M351.14 262.8v0.9M352.83 262.8v0.9M354.22 262.8v0.9M355.39 262.8v0.9M356.4 262.8v0.9M357.3 262.8v0.9M358.1 262.8v1.6M363.37 262.8v0.9M366.45 262.8v0.9M368.64 262.8v0.9M370.33 262.8v0.9M371.72 262.8v0.9M372.89 262.8v0.9M373.9 262.8v0.9M374.8 262.8v0.9M375.6 262.8v1.6M380.87 262.8v0.9M383.95 262.8v0.9M386.14 262.8v0.9M387.83 262.8v0.9M389.22 262.8v0.9M390.39 262.8v0.9M391.4 262.8v0.9M392.3 262.8v0.9M393.1 262.8v1.6M398.37 262.8v0.9M401.45 262.8v0.9M403.64 262.8v0.9M405.33 262.8v0.9M406.72 262.8v0.9M407.89 262.8v0.9M408.9 262.8v0.9M409.8 262.8v0.9M410.6 262.8v1.6" stroke="#555" stroke-width="0.5"/><text transform="translate(336.5 262.8) rotate(-90)" font-size="4.3" text-anchor="middle" fill="#111" stroke="#111" stroke-width="0.3">0</text><text transform="translate(336.5 250.36) rotate(-90)" font-size="4.3" text-anchor="middle" fill="#111" stroke="#111" stroke-width="0.3">40</text><text transform="translate(336.5 237.92) rotate(-90)" font-size="4.3" text-anchor="middle" fill="#111" stroke="#111" stroke-width="0.3">80</text><text transform="translate(336.5 225.48) rotate(-90)" font-size="4.3" text-anchor="middle" fill="#111" stroke="#111" stroke-width="0.3">120</text><text transform="translate(336.5 213.04) rotate(-90)" font-size="4.3" text-anchor="middle" fill="#111" stroke="#111" stroke-width="0.3">160</text><text transform="translate(336.5 200.6) rotate(-90)" font-size="4.3" text-anchor="middle" fill="#111" stroke="#111" stroke-width="0.3">200</text><text transform="translate(332 232.5) rotate(-90)" font-size="4.7" text-anchor="middle" fill="#111" stroke="#111" stroke-width="0.25">Counts</text><text x="339.1" y="270" font-size="5.2" text-anchor="middle" textLength="4.2" lengthAdjust="spacingAndGlyphs" fill="#333" stroke="#333" stroke-width="0.2">10</text><text x="341.3" y="267.4" font-size="4.2" fill="#444" stroke="#444" stroke-width="0.1">0</text><text x="356.6" y="270" font-size="5.2" text-anchor="middle" textLength="4.2" lengthAdjust="spacingAndGlyphs" fill="#333" stroke="#333" stroke-width="0.2">10</text><text x="358.8" y="267.4" font-size="4.2" fill="#444" stroke="#444" stroke-width="0.1">1</text><text x="374.1" y="270" font-size="5.2" text-anchor="middle" textLength="4.2" lengthAdjust="spacingAndGlyphs" fill="#333" stroke="#333" stroke-width="0.2">10</text><text x="376.3" y="267.4" font-size="4.2" fill="#444" stroke="#444" stroke-width="0.1">2</text><text x="391.6" y="270" font-size="5.2" text-anchor="middle" textLength="4.2" lengthAdjust="spacingAndGlyphs" fill="#333" stroke="#333" stroke-width="0.2">10</text><text x="393.8" y="267.4" font-size="4.2" fill="#444" stroke="#444" stroke-width="0.1">3</text><text x="409.1" y="270" font-size="5.2" text-anchor="middle" textLength="4.2" lengthAdjust="spacingAndGlyphs" fill="#333" stroke="#333" stroke-width="0.2">10</text><text x="411.3" y="267.4" font-size="4.2" fill="#444" stroke="#444" stroke-width="0.1">4</text><text x="374.8" y="275" font-size="4.8" text-anchor="middle" textLength="21.6" lengthAdjust="spacingAndGlyphs" fill="#333">FL1-Height</text></g>
<g><path d="M447 263C447.38 262.92 448.23 262.87 449.3 262.5C450.37 262.13 452.17 261.87 453.4 260.8C454.63 259.73 455.82 258.22 456.7 256.1C457.58 253.98 458.15 251 458.7 248.1C459.25 245.2 459.67 241.62 460 238.7C460.33 235.78 460.47 232.47 460.7 230.6C460.93 228.73 461.1 228.5 461.4 227.5C461.7 226.5 462.15 224.77 462.5 224.6C462.85 224.43 463.08 225.5 463.5 226.5C463.92 227.5 464.57 228.57 465 230.6C465.43 232.63 465.7 235.78 466.1 238.7C466.5 241.62 466.97 245.2 467.4 248.1C467.83 251 468.15 253.98 468.7 256.1C469.25 258.22 470.03 259.73 470.7 260.8C471.37 261.87 472.15 262.13 472.7 262.5C473.25 262.87 473.78 262.92 474 263Z" fill="#7b7b7b" stroke="#111" stroke-width="0.95"/><path d="M455 263C455.83 262.17 458.75 260.5 460 258C461.25 255.5 461.83 251.67 462.5 248C463.17 244.33 463.5 239.7 464 236C464.5 232.3 464.95 228.58 465.5 225.8C466.05 223.02 466.72 219.3 467.3 219.3C467.88 219.3 468.47 223.18 469 225.8C469.53 228.42 470.1 232.4 470.5 235C470.9 237.6 471.03 238.12 471.4 241.4C471.77 244.68 472.15 251.47 472.7 254.7C473.25 257.93 473.98 259.42 474.7 260.8C475.42 262.18 476.62 262.63 477 263" fill="none" stroke="#6a6a6a" stroke-width="0.75"/><path d="M455 263C455.95 262.97 458.85 263.07 460.7 262.8C462.55 262.53 464.77 262.3 466.1 261.4C467.43 260.5 468.03 259.4 468.7 257.4C469.37 255.4 469.7 252.52 470.1 249.4C470.5 246.28 470.85 242.03 471.1 238.7C471.35 235.37 471.38 232.35 471.6 229.4C471.82 226.45 472.13 223.58 472.4 221C472.67 218.42 472.87 216.27 473.2 213.9C473.53 211.53 474 206.8 474.4 206.8C474.8 206.8 475.27 211.53 475.6 213.9C475.93 216.27 476.1 218.42 476.4 221C476.7 223.58 477.12 226.45 477.4 229.4C477.68 232.35 477.8 235.37 478.1 238.7C478.4 242.03 478.8 246.28 479.2 249.4C479.6 252.52 479.9 255.4 480.5 257.4C481.1 259.4 481.87 260.55 482.8 261.4C483.73 262.25 484.9 262.23 486.1 262.5C487.3 262.77 489.35 262.92 490 263" fill="none" stroke="#000" stroke-width="1.4"/><path d="M438.7 200.6H516.7V263" fill="none" stroke="#666" stroke-width="0.9"/><path d="M438.7 200.6V263" fill="none" stroke="#333" stroke-width="0.9"/><path d="M438.7 263H516.7" fill="none" stroke="#111" stroke-width="1.3"/><path d="M437.3 263h1.8M437.8 259.88h1.3M437.8 256.76h1.3M437.8 253.64h1.3M437.3 250.52h1.8M437.8 247.4h1.3M437.8 244.28h1.3M437.8 241.16h1.3M437.3 238.04h1.8M437.8 234.92h1.3M437.8 231.8h1.3M437.8 228.68h1.3M437.3 225.56h1.8M437.8 222.44h1.3M437.8 219.32h1.3M437.8 216.2h1.3M437.3 213.08h1.8M437.8 209.96h1.3M437.8 206.84h1.3M437.8 203.72h1.3M437.3 200.6h1.8" stroke="#111" stroke-width="0.8"/><path d="M438.7 263v1.6M444.57 263v0.9M448 263v0.9M450.44 263v0.9M452.33 263v0.9M453.87 263v0.9M455.18 263v0.9M456.31 263v0.9M457.31 263v0.9M458.2 263v1.6M464.07 263v0.9M467.5 263v0.9M469.94 263v0.9M471.83 263v0.9M473.37 263v0.9M474.68 263v0.9M475.81 263v0.9M476.81 263v0.9M477.7 263v1.6M483.57 263v0.9M487 263v0.9M489.44 263v0.9M491.33 263v0.9M492.87 263v0.9M494.18 263v0.9M495.31 263v0.9M496.31 263v0.9M497.2 263v1.6M503.07 263v0.9M506.5 263v0.9M508.94 263v0.9M510.83 263v0.9M512.37 263v0.9M513.68 263v0.9M514.81 263v0.9M515.81 263v0.9M516.7 263v1.6" stroke="#555" stroke-width="0.5"/><text transform="translate(434.6 263) rotate(-90)" font-size="4.3" text-anchor="middle" fill="#111" stroke="#111" stroke-width="0.3">0</text><text transform="translate(434.6 250.52) rotate(-90)" font-size="4.3" text-anchor="middle" fill="#111" stroke="#111" stroke-width="0.3">40</text><text transform="translate(434.6 238.04) rotate(-90)" font-size="4.3" text-anchor="middle" fill="#111" stroke="#111" stroke-width="0.3">80</text><text transform="translate(434.6 225.56) rotate(-90)" font-size="4.3" text-anchor="middle" fill="#111" stroke="#111" stroke-width="0.3">120</text><text transform="translate(434.6 213.08) rotate(-90)" font-size="4.3" text-anchor="middle" fill="#111" stroke="#111" stroke-width="0.3">160</text><text transform="translate(434.6 200.6) rotate(-90)" font-size="4.3" text-anchor="middle" fill="#111" stroke="#111" stroke-width="0.3">200</text><text transform="translate(430.1 232.6) rotate(-90)" font-size="4.7" text-anchor="middle" fill="#111" stroke="#111" stroke-width="0.25">Counts</text><text x="437.2" y="270.2" font-size="5.2" text-anchor="middle" textLength="4.2" lengthAdjust="spacingAndGlyphs" fill="#333" stroke="#333" stroke-width="0.2">10</text><text x="439.4" y="267.6" font-size="4.2" fill="#444" stroke="#444" stroke-width="0.1">0</text><text x="456.7" y="270.2" font-size="5.2" text-anchor="middle" textLength="4.2" lengthAdjust="spacingAndGlyphs" fill="#333" stroke="#333" stroke-width="0.2">10</text><text x="458.9" y="267.6" font-size="4.2" fill="#444" stroke="#444" stroke-width="0.1">1</text><text x="476.2" y="270.2" font-size="5.2" text-anchor="middle" textLength="4.2" lengthAdjust="spacingAndGlyphs" fill="#333" stroke="#333" stroke-width="0.2">10</text><text x="478.4" y="267.6" font-size="4.2" fill="#444" stroke="#444" stroke-width="0.1">2</text><text x="495.7" y="270.2" font-size="5.2" text-anchor="middle" textLength="4.2" lengthAdjust="spacingAndGlyphs" fill="#333" stroke="#333" stroke-width="0.2">10</text><text x="497.9" y="267.6" font-size="4.2" fill="#444" stroke="#444" stroke-width="0.1">3</text><text x="515.2" y="270.2" font-size="5.2" text-anchor="middle" textLength="4.2" lengthAdjust="spacingAndGlyphs" fill="#333" stroke="#333" stroke-width="0.2">10</text><text x="517.4" y="267.6" font-size="4.2" fill="#444" stroke="#444" stroke-width="0.1">4</text><text x="476.9" y="275.2" font-size="4.8" text-anchor="middle" textLength="21.6" lengthAdjust="spacingAndGlyphs" fill="#333">FL1-Height</text></g>
</svg></body></html>
